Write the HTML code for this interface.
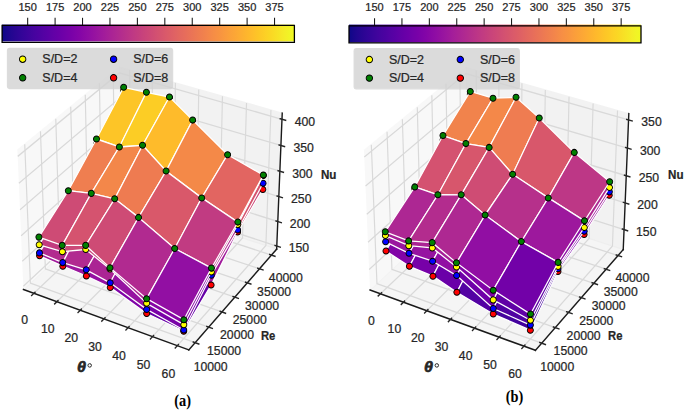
<!DOCTYPE html>
<html><head><meta charset="utf-8"><title>Nu surfaces</title>
<style>
html,body{margin:0;padding:0;background:#fff;}
#wrap{position:relative;width:685px;height:410px;overflow:hidden;background:#fff;}
#wrap svg{position:absolute;left:0;top:0;width:685px;height:410px;}
</style></head><body><div id="wrap">
<svg class="plot" viewBox="0 0 640.519481 342.868991" preserveAspectRatio="none"><defs><linearGradient id="plasmaG" x1="0" y1="0" x2="1" y2="0"><stop offset="0.0000" stop-color="#0d0887"/><stop offset="0.0156" stop-color="#19068c"/><stop offset="0.0312" stop-color="#220690"/><stop offset="0.0469" stop-color="#2a0593"/><stop offset="0.0625" stop-color="#310597"/><stop offset="0.0781" stop-color="#38049a"/><stop offset="0.0938" stop-color="#3f049c"/><stop offset="0.1094" stop-color="#46039f"/><stop offset="0.1250" stop-color="#4c02a1"/><stop offset="0.1406" stop-color="#5302a3"/><stop offset="0.1562" stop-color="#5901a5"/><stop offset="0.1719" stop-color="#6001a6"/><stop offset="0.1875" stop-color="#6600a7"/><stop offset="0.2031" stop-color="#6c00a8"/><stop offset="0.2188" stop-color="#7201a8"/><stop offset="0.2344" stop-color="#7801a8"/><stop offset="0.2500" stop-color="#7e03a8"/><stop offset="0.2656" stop-color="#8405a7"/><stop offset="0.2812" stop-color="#8a09a5"/><stop offset="0.2969" stop-color="#8f0da4"/><stop offset="0.3125" stop-color="#9511a1"/><stop offset="0.3281" stop-color="#9a169f"/><stop offset="0.3438" stop-color="#a01a9c"/><stop offset="0.3594" stop-color="#a51f99"/><stop offset="0.3750" stop-color="#aa2395"/><stop offset="0.3906" stop-color="#ae2892"/><stop offset="0.4062" stop-color="#b32c8e"/><stop offset="0.4219" stop-color="#b7318a"/><stop offset="0.4375" stop-color="#bc3587"/><stop offset="0.4531" stop-color="#c03a83"/><stop offset="0.4688" stop-color="#c43e7f"/><stop offset="0.4844" stop-color="#c8437b"/><stop offset="0.5000" stop-color="#cc4778"/><stop offset="0.5156" stop-color="#cf4c74"/><stop offset="0.5312" stop-color="#d35171"/><stop offset="0.5469" stop-color="#d6556d"/><stop offset="0.5625" stop-color="#da5a6a"/><stop offset="0.5781" stop-color="#dd5e66"/><stop offset="0.5938" stop-color="#e06363"/><stop offset="0.6094" stop-color="#e3685f"/><stop offset="0.6250" stop-color="#e66c5c"/><stop offset="0.6406" stop-color="#e97158"/><stop offset="0.6562" stop-color="#eb7655"/><stop offset="0.6719" stop-color="#ee7b51"/><stop offset="0.6875" stop-color="#f0804e"/><stop offset="0.7031" stop-color="#f3854b"/><stop offset="0.7188" stop-color="#f58b47"/><stop offset="0.7344" stop-color="#f79044"/><stop offset="0.7500" stop-color="#f89540"/><stop offset="0.7656" stop-color="#fa9b3d"/><stop offset="0.7812" stop-color="#fba139"/><stop offset="0.7969" stop-color="#fca636"/><stop offset="0.8125" stop-color="#fdac33"/><stop offset="0.8281" stop-color="#fdb22f"/><stop offset="0.8438" stop-color="#feb82c"/><stop offset="0.8594" stop-color="#febe2a"/><stop offset="0.8750" stop-color="#fdc527"/><stop offset="0.8906" stop-color="#fdcb26"/><stop offset="0.9062" stop-color="#fcd225"/><stop offset="0.9219" stop-color="#fad824"/><stop offset="0.9375" stop-color="#f8df25"/><stop offset="0.9531" stop-color="#f6e626"/><stop offset="0.9688" stop-color="#f4ed27"/><stop offset="0.9844" stop-color="#f1f426"/><stop offset="1.0000" stop-color="#f0f921"/></linearGradient></defs>
<defs>
<style type="text/css">*{stroke-linejoin: round; stroke-linecap: butt}</style>
</defs>
<g id="figure_1">
<g id="patch_1">
<path d="M 0 342.868991 L 640.519481 342.868991 L 640.519481 0 L 0 0 z
" style="fill: #ffffff"/>
</g>
<g id="patch_2">
<path d="M 1.162195 309.966778 L 276.414029 309.966778 L 276.414029 34.714944 L 1.162195 34.714944 z
" style="fill: #ffffff"/>
</g>
<g id="pane3d_1">
<g id="patch_3">
<path d="M 21.945607 242.098497 L 112.842752 165.906708 L 111.579194 56.024527 L 16.332152 125.53148 " style="fill: #f2f2f2; opacity: 0.5; stroke: #f2f2f2; stroke-linejoin: miter"/>
</g>
</g>
<g id="pane3d_2">
<g id="patch_4">
<path d="M 112.842752 165.906708 L 258.700237 208.30172 L 263.905376 94.634774 L 111.579194 56.024527 " style="fill: #e6e6e6; opacity: 0.5; stroke: #e6e6e6; stroke-linejoin: miter"/>
</g>
</g>
<g id="pane3d_3">
<g id="patch_5">
<path d="M 21.945607 242.098497 L 176.561665 292.596101 L 258.700237 208.30172 L 112.842752 165.906708 " style="fill: #ececec; opacity: 0.5; stroke: #ececec; stroke-linejoin: miter"/>
</g>
</g>
<g id="grid3d_1">
<g id="Line3DCollection_1">
<path d="M 31.680569 245.277936 L 122.064322 168.587054 L 121.190708 58.460766 " style="fill: none; stroke: #d9d9d9; stroke-width: 1.1"/>
<path d="M 53.198844 252.305804 L 142.429572 174.506428 L 142.426208 63.843346 " style="fill: none; stroke: #d9d9d9; stroke-width: 1.1"/>
<path d="M 75.042816 259.440046 L 163.077453 180.507952 L 163.969192 69.303865 " style="fill: none; stroke: #d9d9d9; stroke-width: 1.1"/>
<path d="M 97.219937 266.683093 L 184.013888 186.593347 L 185.826387 74.844026 " style="fill: none; stroke: #d9d9d9; stroke-width: 1.1"/>
<path d="M 119.737887 274.037456 L 205.24497 192.764385 L 208.004717 80.465587 " style="fill: none; stroke: #d9d9d9; stroke-width: 1.1"/>
<path d="M 142.604583 281.505718 L 226.776961 199.022884 L 230.511312 86.170352 " style="fill: none; stroke: #d9d9d9; stroke-width: 1.1"/>
<path d="M 165.82819 289.090548 L 248.616305 205.37072 L 253.353515 91.960185 " style="fill: none; stroke: #d9d9d9; stroke-width: 1.1"/>
</g>
</g>
<g id="grid3d_2">
<g id="Line3DCollection_2">
<path d="M 23.131366 120.569724 L 28.41146 236.67869 L 182.428495 286.57529 " style="fill: none; stroke: #d9d9d9; stroke-width: 1.1"/>
<path d="M 37.840563 109.835622 L 42.411458 224.943614 L 195.118833 273.551882 " style="fill: none; stroke: #d9d9d9; stroke-width: 1.1"/>
<path d="M 52.165455 99.381968 L 56.061455 213.501917 L 207.475285 260.871123 " style="fill: none; stroke: #d9d9d9; stroke-width: 1.1"/>
<path d="M 66.12091 89.197913 L 69.374413 202.342731 L 219.510856 248.519666 " style="fill: none; stroke: #d9d9d9; stroke-width: 1.1"/>
<path d="M 79.721036 79.27316 L 82.362663 191.455722 L 231.237886 236.484849 " style="fill: none; stroke: #d9d9d9; stroke-width: 1.1"/>
<path d="M 92.979234 69.597931 L 95.037942 180.831052 L 242.668089 224.754648 " style="fill: none; stroke: #d9d9d9; stroke-width: 1.1"/>
<path d="M 105.908239 60.162932 L 107.411428 170.459351 L 253.812594 213.317645 " style="fill: none; stroke: #d9d9d9; stroke-width: 1.1"/>
</g>
</g>
<g id="grid3d_3">
<g id="Line3DCollection_3">
<path d="M 258.817417 205.742802 L 112.814247 163.427884 L 21.819442 239.478613 " style="fill: none; stroke: #d9d9d9; stroke-width: 1.1"/>
<path d="M 259.756784 185.229437 L 112.585841 143.565111 L 20.80771 218.469335 " style="fill: none; stroke: #d9d9d9; stroke-width: 1.1"/>
<path d="M 260.711447 164.382025 L 112.353894 123.394395 L 19.778872 197.104836 " style="fill: none; stroke: #d9d9d9; stroke-width: 1.1"/>
<path d="M 261.681784 143.19234 L 112.118323 102.908519 L 18.732489 175.376032 " style="fill: none; stroke: #d9d9d9; stroke-width: 1.1"/>
<path d="M 262.668185 121.651881 L 111.879042 82.100039 L 17.668111 153.273523 " style="fill: none; stroke: #d9d9d9; stroke-width: 1.1"/>
<path d="M 263.67105 99.751867 L 111.635963 60.961274 L 16.585268 130.787586 " style="fill: none; stroke: #d9d9d9; stroke-width: 1.1"/>
</g>
</g>
<g id="axis3d_1">
<g id="line2d_1">
<path d="M 21.945607 242.098497 L 176.561665 292.596101 " style="fill: none; stroke: #1a1a1a; stroke-width: 1.3; stroke-linecap: square"/>
</g>
<g id="xtick_1">
<g id="line2d_2">
<path d="M 32.742842 244.376595 L 29.549867 247.085843 " style="fill: none; stroke: #262626; stroke-width: 1.2; stroke-linecap: square"/>
</g>
<g id="text_1">
<text style="font-size: 10.298px; font-family: Liberation Sans; stroke: #262626; stroke-width: 0.2px; text-anchor: middle; fill: #262626" x="23.16693" y="270.646003" transform="rotate(-0 23.16693 270.646003)" dy="0.6" textLength="6.363" lengthAdjust="spacingAndGlyphs">0</text>
</g>
</g>
<g id="xtick_2">
<g id="line2d_3">
<path d="M 54.248203 251.390879 L 51.093998 254.140999 " style="fill: none; stroke: #262626; stroke-width: 1.2; stroke-linecap: square"/>
</g>
<g id="text_2">
<text style="font-size: 10.298px; font-family: Liberation Sans; stroke: #262626; stroke-width: 0.2px; text-anchor: middle; fill: #262626" x="44.709117" y="277.836662" transform="rotate(-0 44.709117 277.836662)" dy="0.6" textLength="12.726" lengthAdjust="spacingAndGlyphs">10</text>
</g>
</g>
<g id="xtick_3">
<g id="line2d_4">
<path d="M 76.078748 258.511226 L 72.964857 261.30315 " style="fill: none; stroke: #262626; stroke-width: 1.2; stroke-linecap: square"/>
</g>
<g id="text_3">
<text style="font-size: 10.298px; font-family: Liberation Sans; stroke: #262626; stroke-width: 0.2px; text-anchor: middle; fill: #262626" x="66.57871" y="285.136607" transform="rotate(-0 66.57871 285.136607)" dy="0.6" textLength="12.726" lengthAdjust="spacingAndGlyphs">20</text>
</g>
</g>
<g id="xtick_4">
<g id="line2d_5">
<path d="M 98.241909 265.740061 L 95.169934 268.574749 " style="fill: none; stroke: #262626; stroke-width: 1.2; stroke-linecap: square"/>
</g>
<g id="text_4">
<text style="font-size: 10.298px; font-family: Liberation Sans; stroke: #262626; stroke-width: 0.2px; text-anchor: middle; fill: #262626" x="88.783228" y="292.548348" transform="rotate(-0 88.783228 292.548348)" dy="0.6" textLength="12.726" lengthAdjust="spacingAndGlyphs">30</text>
</g>
</g>
<g id="xtick_5">
<g id="line2d_6">
<path d="M 120.745346 273.079882 L 117.716949 275.958324 " style="fill: none; stroke: #262626; stroke-width: 1.2; stroke-linecap: square"/>
</g>
<g id="text_5">
<text style="font-size: 10.298px; font-family: Liberation Sans; stroke: #262626; stroke-width: 0.2px; text-anchor: middle; fill: #262626" x="111.330426" y="300.074473" transform="rotate(-0 111.330426 300.074473)" dy="0.6" textLength="12.726" lengthAdjust="spacingAndGlyphs">40</text>
</g>
</g>
<g id="xtick_6">
<g id="line2d_7">
<path d="M 143.596956 280.533265 L 140.613861 283.456481 " style="fill: none; stroke: #262626; stroke-width: 1.2; stroke-linecap: square"/>
</g>
<g id="text_6">
<text style="font-size: 10.298px; font-family: Liberation Sans; stroke: #262626; stroke-width: 0.2px; text-anchor: middle; fill: #262626" x="134.228297" y="307.717652" transform="rotate(-0 134.228297 307.717652)" dy="0.6" textLength="12.726" lengthAdjust="spacingAndGlyphs">50</text>
</g>
</g>
<g id="xtick_7">
<g id="line2d_8">
<path d="M 166.804882 288.102865 L 163.86888 291.071909 " style="fill: none; stroke: #262626; stroke-width: 1.2; stroke-linecap: square"/>
</g>
<g id="text_7">
<text style="font-size: 10.298px; font-family: Liberation Sans; stroke: #262626; stroke-width: 0.2px; text-anchor: middle; fill: #262626" x="157.485088" y="315.480636" transform="rotate(-0 157.485088 315.480636)" dy="0.6" textLength="12.726" lengthAdjust="spacingAndGlyphs">60</text>
</g>
</g>
</g>
<g id="axis3d_2">
<g id="line2d_9">
<path d="M 258.700237 208.30172 L 176.561665 292.596101 " style="fill: none; stroke: #1a1a1a; stroke-width: 1.3; stroke-linecap: square"/>
</g>
<g id="xtick_8">
<g id="line2d_10">
<path d="M 180.676603 286.007733 L 185.938397 287.712386 " style="fill: none; stroke: #262626; stroke-width: 1.2; stroke-linecap: square"/>
</g>
<g id="text_8">
<text style="font-size: 10.298px; font-family: Liberation Sans; stroke: #262626; stroke-width: 0.2px; text-anchor: middle; fill: #262626" x="196.987334" y="309.346439" transform="rotate(-0 196.987334 309.346439)" dy="0.6" textLength="31.815" lengthAdjust="spacingAndGlyphs">10000</text>
</g>
</g>
<g id="xtick_9">
<g id="line2d_11">
<path d="M 193.383007 272.999351 L 198.596466 274.658847 " style="fill: none; stroke: #262626; stroke-width: 1.2; stroke-linecap: square"/>
</g>
<g id="text_9">
<text style="font-size: 10.298px; font-family: Liberation Sans; stroke: #262626; stroke-width: 0.2px; text-anchor: middle; fill: #262626" x="209.491663" y="296.112243" transform="rotate(-0 209.491663 296.112243)" dy="0.6" textLength="31.815" lengthAdjust="spacingAndGlyphs">15000</text>
</g>
</g>
<g id="xtick_10">
<g id="line2d_12">
<path d="M 205.755291 260.33303 L 210.92112 261.949138 " style="fill: none; stroke: #262626; stroke-width: 1.2; stroke-linecap: square"/>
</g>
<g id="text_10">
<text style="font-size: 10.298px; font-family: Liberation Sans; stroke: #262626; stroke-width: 0.2px; text-anchor: middle; fill: #262626" x="221.666789" y="283.226464" transform="rotate(-0 221.666789 283.226464)" dy="0.6" textLength="31.815" lengthAdjust="spacingAndGlyphs">20000</text>
</g>
</g>
<g id="xtick_11">
<g id="line2d_13">
<path d="M 217.806463 247.995452 L 222.925361 249.569853 " style="fill: none; stroke: #262626; stroke-width: 1.2; stroke-linecap: square"/>
</g>
<g id="text_11">
<text style="font-size: 10.298px; font-family: Liberation Sans; stroke: #262626; stroke-width: 0.2px; text-anchor: middle; fill: #262626" x="233.525546" y="270.675521" transform="rotate(-0 233.525546 270.675521)" dy="0.6" textLength="31.815" lengthAdjust="spacingAndGlyphs">25000</text>
</g>
</g>
<g id="xtick_12">
<g id="line2d_14">
<path d="M 229.548864 235.973983 L 234.621524 237.508271 " style="fill: none; stroke: #262626; stroke-width: 1.2; stroke-linecap: square"/>
</g>
<g id="text_12">
<text style="font-size: 10.298px; font-family: Liberation Sans; stroke: #262626; stroke-width: 0.2px; text-anchor: middle; fill: #262626" x="245.080105" y="258.446532" transform="rotate(-0 245.080105 258.446532)" dy="0.6" textLength="31.815" lengthAdjust="spacingAndGlyphs">30000</text>
</g>
</g>
<g id="xtick_13">
<g id="line2d_15">
<path d="M 240.994211 224.256629 L 246.021319 225.752317 " style="fill: none; stroke: #262626; stroke-width: 1.2; stroke-linecap: square"/>
</g>
<g id="text_13">
<text style="font-size: 10.298px; font-family: Liberation Sans; stroke: #262626; stroke-width: 0.2px; text-anchor: middle; fill: #262626" x="256.342023" y="246.527264" transform="rotate(-0 256.342023 246.527264)" dy="0.6" textLength="31.815" lengthAdjust="spacingAndGlyphs">35000</text>
</g>
</g>
<g id="xtick_14">
<g id="line2d_16">
<path d="M 252.153634 212.831992 L 257.13587 214.290519 " style="fill: none; stroke: #262626; stroke-width: 1.2; stroke-linecap: square"/>
</g>
<g id="text_14">
<text style="font-size: 10.298px; font-family: Liberation Sans; stroke: #262626; stroke-width: 0.2px; text-anchor: middle; fill: #262626" x="267.322279" y="234.906099" transform="rotate(-0 267.322279 234.906099)" dy="0.6" textLength="31.815" lengthAdjust="spacingAndGlyphs">40000</text>
</g>
</g>
</g>
<g id="axis3d_3">
<g id="line2d_17">
<path d="M 258.700237 208.30172 L 263.905376 94.634774 " style="fill: none; stroke: #1a1a1a; stroke-width: 1.3; stroke-linecap: square"/>
</g>
<g id="xtick_15">
<g id="line2d_18">
<path d="M 257.163321 205.263409 L 262.130928 206.70313 " style="fill: none; stroke: #262626; stroke-width: 1.2; stroke-linecap: square"/>
</g>
<g id="text_15">
<text style="font-size: 10.298px; font-family: Liberation Sans; stroke: #262626; stroke-width: 0.2px; text-anchor: middle; fill: #262626" x="279.460916" y="210.403471" transform="rotate(-0 279.460916 210.403471)" dy="0.6" textLength="19.089" lengthAdjust="spacingAndGlyphs">150</text>
</g>
</g>
<g id="xtick_16">
<g id="line2d_19">
<path d="M 258.088829 184.757237 L 263.098099 186.175369 " style="fill: none; stroke: #262626; stroke-width: 1.2; stroke-linecap: square"/>
</g>
<g id="text_16">
<text style="font-size: 10.298px; font-family: Liberation Sans; stroke: #262626; stroke-width: 0.2px; text-anchor: middle; fill: #262626" x="280.563352" y="189.93426" transform="rotate(-0 280.563352 189.93426)" dy="0.6" textLength="19.089" lengthAdjust="spacingAndGlyphs">200</text>
</g>
</g>
<g id="xtick_17">
<g id="line2d_20">
<path d="M 259.0294 163.917316 L 264.081038 165.312962 " style="fill: none; stroke: #262626; stroke-width: 1.2; stroke-linecap: square"/>
</g>
<g id="text_17">
<text style="font-size: 10.298px; font-family: Liberation Sans; stroke: #262626; stroke-width: 0.2px; text-anchor: middle; fill: #262626" x="281.68368" y="169.132831" transform="rotate(-0 281.68368 169.132831)" dy="0.6" textLength="19.089" lengthAdjust="spacingAndGlyphs">250</text>
</g>
</g>
<g id="xtick_18">
<g id="line2d_21">
<path d="M 259.985405 142.735432 L 265.080132 144.10766 " style="fill: none; stroke: #262626; stroke-width: 1.2; stroke-linecap: square"/>
</g>
<g id="text_18">
<text style="font-size: 10.298px; font-family: Liberation Sans; stroke: #262626; stroke-width: 0.2px; text-anchor: middle; fill: #262626" x="282.822341" y="147.99103" transform="rotate(-0 282.822341 147.99103)" dy="0.6" textLength="19.089" lengthAdjust="spacingAndGlyphs">300</text>
</g>
</g>
<g id="xtick_19">
<g id="line2d_22">
<path d="M 260.957227 121.203099 L 266.095783 122.550937 " style="fill: none; stroke: #262626; stroke-width: 1.2; stroke-linecap: square"/>
</g>
<g id="text_19">
<text style="font-size: 10.298px; font-family: Liberation Sans; stroke: #262626; stroke-width: 0.2px; text-anchor: middle; fill: #262626" x="283.979787" y="126.500435" transform="rotate(-0 283.979787 126.500435)" dy="0.6" textLength="19.089" lengthAdjust="spacingAndGlyphs">350</text>
</g>
</g>
<g id="xtick_20">
<g id="line2d_23">
<path d="M 261.945261 99.311545 L 267.128407 100.633986 " style="fill: none; stroke: #262626; stroke-width: 1.2; stroke-linecap: square"/>
</g>
<g id="text_20">
<text style="font-size: 10.298px; font-family: Liberation Sans; stroke: #262626; stroke-width: 0.2px; text-anchor: middle; fill: #262626" x="285.156487" y="104.652342" transform="rotate(-0 285.156487 104.652342)" dy="0.6" textLength="19.089" lengthAdjust="spacingAndGlyphs">400</text>
</g>
</g>
</g>
<g id="axes_1">
<g id="Poly3DCollection_1">
<path d="M 90.493249 130.509572 L 111.799969 138.943593 L 136.929158 96.942918 L 115.838959 90.93204 z
" clip-path="url(#pda43976c72)" style="fill: #f58c46; stroke: #ffffff; stroke-width: 1.1"/>
<path d="M 111.799969 138.943593 L 133.371943 145.74138 L 158.280741 108.980256 L 136.929158 96.942918 z
" clip-path="url(#pda43976c72)" style="fill: #f3854b; stroke: #ffffff; stroke-width: 1.1"/>
<path d="M 133.371943 145.74138 L 155.22335 158.052882 L 179.866157 119.098572 L 158.280741 108.980256 z
" clip-path="url(#pda43976c72)" style="fill: #ed7953; stroke: #ffffff; stroke-width: 1.1"/>
<path d="M 64.485519 179.517208 L 85.834771 183.615382 L 111.799969 138.943593 L 90.493249 130.509572 z
" clip-path="url(#pda43976c72)" style="fill: #d04d73; stroke: #ffffff; stroke-width: 1.1"/>
<path d="M 155.22335 158.052882 L 188.416225 176.539335 L 212.44325 144.0229 L 179.866157 119.098572 z
" clip-path="url(#pda43976c72)" style="fill: #de6164; stroke: #ffffff; stroke-width: 1.1"/>
<path d="M 85.834771 183.615382 L 107.657581 196.278517 L 133.371943 145.74138 L 111.799969 138.943593 z
" clip-path="url(#pda43976c72)" style="fill: #cc4977; stroke: #ffffff; stroke-width: 1.1"/>
<path d="M 188.416225 176.539335 L 222.159068 194.031267 L 245.762562 158.38633 L 212.44325 144.0229 z
" clip-path="url(#pda43976c72)" style="fill: #cc4778; stroke: #ffffff; stroke-width: 1.1"/>
<path d="M 107.657581 196.278517 L 129.668499 202.702395 L 155.22335 158.052882 L 133.371943 145.74138 z
" clip-path="url(#pda43976c72)" style="fill: #c6417d; stroke: #ffffff; stroke-width: 1.1"/>
<path d="M 37.031655 213.900009 L 58.748986 222.595077 L 85.834771 183.615382 L 64.485519 179.517208 z
" clip-path="url(#pda43976c72)" style="fill: #a11b9b; stroke: #ffffff; stroke-width: 1.1"/>
<path d="M 129.668499 202.702395 L 163.216746 224.704909 L 188.416225 176.539335 L 155.22335 158.052882 z
" clip-path="url(#pda43976c72)" style="fill: #b6308b; stroke: #ffffff; stroke-width: 1.1"/>
<path d="M 58.748986 222.595077 L 80.748919 230.811717 L 107.657581 196.278517 L 85.834771 183.615382 z
" clip-path="url(#pda43976c72)" style="fill: #9c179e; stroke: #ffffff; stroke-width: 1.1"/>
<path d="M 163.216746 224.704909 L 197.400143 238.412587 L 222.159068 194.031267 L 188.416225 176.539335 z
" clip-path="url(#pda43976c72)" style="fill: #a11b9b; stroke: #ffffff; stroke-width: 1.1"/>
<path d="M 80.748919 230.811717 L 103.081614 240.344735 L 129.668499 202.702395 L 107.657581 196.278517 z
" clip-path="url(#pda43976c72)" style="fill: #9410a2; stroke: #ffffff; stroke-width: 1.1"/>
<path d="M 103.081614 240.344735 L 137.159061 262.170809 L 163.216746 224.704909 L 129.668499 202.702395 z
" clip-path="url(#pda43976c72)" style="fill: #8004a8; stroke: #ffffff; stroke-width: 1.1"/>
<path d="M 137.159061 262.170809 L 171.812368 276.993818 L 197.400143 238.412587 L 163.216746 224.704909 z
" clip-path="url(#pda43976c72)" style="fill: #6600a7; stroke: #ffffff; stroke-width: 1.1"/>
</g>
<g id="Path3DCollection_1">
<defs>
<path id="m2ebb7b896f" d="M 0.0000 2.5296 C 0.7501 2.5296 1.4696 2.2630 2.0000 1.7887 C 2.5304 1.3143 2.8284 0.6709 2.8284 0.0000 C 2.8284 -0.6709 2.5304 -1.3143 2.0000 -1.7887 C 1.4696 -2.2630 0.7501 -2.5296 0.0000 -2.5296 C -0.7501 -2.5296 -1.4696 -2.2630 -2.0000 -1.7887 C -2.5304 -1.3143 -2.8284 -0.6709 -2.8284 0.0000 C -2.8284 0.6709 -2.5304 1.3143 -2.0000 1.7887 C -1.4696 2.2630 -0.7501 2.5296 0.0000 2.5296 z" style="stroke: #000000; stroke-width: 0.85"/>
</defs>
<g clip-path="url(#pda43976c72)">
<use href="#m2ebb7b896f" x="115.838959" y="90.93204" style="fill: #ff0000; stroke: #000000; stroke-width: 0.85"/>
<use href="#m2ebb7b896f" x="136.929158" y="96.942918" style="fill: #ff0000; stroke: #000000; stroke-width: 0.85"/>
<use href="#m2ebb7b896f" x="158.280741" y="108.980256" style="fill: #ff0000; stroke: #000000; stroke-width: 0.85"/>
<use href="#m2ebb7b896f" x="179.866157" y="119.098572" style="fill: #ff0000; stroke: #000000; stroke-width: 0.85"/>
<use href="#m2ebb7b896f" x="90.493249" y="130.509572" style="fill: #ff0000; stroke: #000000; stroke-width: 0.85"/>
<use href="#m2ebb7b896f" x="212.44325" y="144.0229" style="fill: #ff0000; stroke: #000000; stroke-width: 0.85"/>
<use href="#m2ebb7b896f" x="111.799969" y="138.943593" style="fill: #ff0000; stroke: #000000; stroke-width: 0.85"/>
<use href="#m2ebb7b896f" x="133.371943" y="145.74138" style="fill: #ff0000; stroke: #000000; stroke-width: 0.85"/>
<use href="#m2ebb7b896f" x="245.762562" y="158.38633" style="fill: #ff0000; stroke: #000000; stroke-width: 0.85"/>
<use href="#m2ebb7b896f" x="64.485519" y="179.517208" style="fill: #ff0000; stroke: #000000; stroke-width: 0.85"/>
<use href="#m2ebb7b896f" x="155.22335" y="158.052882" style="fill: #ff0000; stroke: #000000; stroke-width: 0.85"/>
<use href="#m2ebb7b896f" x="85.834771" y="183.615382" style="fill: #ff0000; stroke: #000000; stroke-width: 0.85"/>
<use href="#m2ebb7b896f" x="188.416225" y="176.539335" style="fill: #ff0000; stroke: #000000; stroke-width: 0.85"/>
<use href="#m2ebb7b896f" x="107.657581" y="196.278517" style="fill: #ff0000; stroke: #000000; stroke-width: 0.85"/>
<use href="#m2ebb7b896f" x="222.159068" y="194.031267" style="fill: #ff0000; stroke: #000000; stroke-width: 0.85"/>
<use href="#m2ebb7b896f" x="129.668499" y="202.702395" style="fill: #ff0000; stroke: #000000; stroke-width: 0.85"/>
<use href="#m2ebb7b896f" x="37.031655" y="213.900009" style="fill: #ff0000; stroke: #000000; stroke-width: 0.85"/>
<use href="#m2ebb7b896f" x="163.216746" y="224.704909" style="fill: #ff0000; stroke: #000000; stroke-width: 0.85"/>
<use href="#m2ebb7b896f" x="58.748986" y="222.595077" style="fill: #ff0000; stroke: #000000; stroke-width: 0.85"/>
<use href="#m2ebb7b896f" x="80.748919" y="230.811717" style="fill: #ff0000; stroke: #000000; stroke-width: 0.85"/>
<use href="#m2ebb7b896f" x="197.400143" y="238.412587" style="fill: #ff0000; stroke: #000000; stroke-width: 0.85"/>
<use href="#m2ebb7b896f" x="103.081614" y="240.344735" style="fill: #ff0000; stroke: #000000; stroke-width: 0.85"/>
<use href="#m2ebb7b896f" x="137.159061" y="262.170809" style="fill: #ff0000; stroke: #000000; stroke-width: 0.85"/>
<use href="#m2ebb7b896f" x="171.812368" y="276.993818" style="fill: #ff0000; stroke: #000000; stroke-width: 0.85"/>
</g>
</g>
<g id="Poly3DCollection_2">
<path d="M 90.431847 127.422459 L 111.756984 135.294709 L 136.914317 89.896215 L 115.774033 84.469092 z
" clip-path="url(#pda43976c72)" style="fill: #fa9c3c; stroke: #ffffff; stroke-width: 1.1"/>
<path d="M 111.756984 135.294709 L 133.35141 139.898003 L 158.335904 99.758987 L 136.914317 89.896215 z
" clip-path="url(#pda43976c72)" style="fill: #f9983e; stroke: #ffffff; stroke-width: 1.1"/>
<path d="M 133.35141 139.898003 L 155.245562 153.532945 L 179.978716 111.184869 L 158.335904 99.758987 z
" clip-path="url(#pda43976c72)" style="fill: #f58c46; stroke: #ffffff; stroke-width: 1.1"/>
<path d="M 64.195452 169.976991 L 85.610051 173.456383 L 111.756984 135.294709 L 90.431847 127.422459 z
" clip-path="url(#pda43976c72)" style="fill: #dd5e66; stroke: #ffffff; stroke-width: 1.1"/>
<path d="M 155.245562 153.532945 L 188.489394 172.444689 L 212.643553 136.571566 L 179.978716 111.184869 z
" clip-path="url(#pda43976c72)" style="fill: #e87059; stroke: #ffffff; stroke-width: 1.1"/>
<path d="M 85.610051 173.456383 L 107.488916 183.940299 L 133.35141 139.898003 L 111.756984 135.294709 z
" clip-path="url(#pda43976c72)" style="fill: #dc5d67; stroke: #ffffff; stroke-width: 1.1"/>
<path d="M 188.489394 172.444689 L 222.212347 192.324483 L 245.965829 153.293063 L 212.643553 136.571566 z
" clip-path="url(#pda43976c72)" style="fill: #d5546e; stroke: #ffffff; stroke-width: 1.1"/>
<path d="M 107.488916 183.940299 L 129.61261 191.633024 L 155.245562 153.532945 L 133.35141 139.898003 z
" clip-path="url(#pda43976c72)" style="fill: #d7566c; stroke: #ffffff; stroke-width: 1.1"/>
<path d="M 36.930915 211.481942 L 58.650053 219.61493 L 85.610051 173.456383 L 64.195452 169.976991 z
" clip-path="url(#pda43976c72)" style="fill: #b22b8f; stroke: #ffffff; stroke-width: 1.1"/>
<path d="M 129.61261 191.633024 L 163.303973 214.086657 L 188.489394 172.444689 L 155.245562 153.532945 z
" clip-path="url(#pda43976c72)" style="fill: #c8437b; stroke: #ffffff; stroke-width: 1.1"/>
<path d="M 58.650053 219.61493 L 80.62182 225.636197 L 107.488916 183.940299 L 85.610051 173.456383 z
" clip-path="url(#pda43976c72)" style="fill: #b12a90; stroke: #ffffff; stroke-width: 1.1"/>
<path d="M 163.303973 214.086657 L 197.581001 230.151811 L 222.212347 192.324483 L 188.489394 172.444689 z
" clip-path="url(#pda43976c72)" style="fill: #b22b8f; stroke: #ffffff; stroke-width: 1.1"/>
<path d="M 80.62182 225.636197 L 103.020893 236.486251 L 129.61261 191.633024 L 107.488916 183.940299 z
" clip-path="url(#pda43976c72)" style="fill: #ab2494; stroke: #ffffff; stroke-width: 1.1"/>
<path d="M 103.020893 236.486251 L 137.151688 258.747258 L 163.303973 214.086657 L 129.61261 191.633024 z
" clip-path="url(#pda43976c72)" style="fill: #9613a1; stroke: #ffffff; stroke-width: 1.1"/>
<path d="M 137.151688 258.747258 L 171.824599 275.963492 L 197.581001 230.151811 L 163.303973 214.086657 z
" clip-path="url(#pda43976c72)" style="fill: #7a02a8; stroke: #ffffff; stroke-width: 1.1"/>
</g>
<g id="Path3DCollection_2">
<defs>
<path id="m692a02ad62" d="M 0.0000 2.5296 C 0.7501 2.5296 1.4696 2.2630 2.0000 1.7887 C 2.5304 1.3143 2.8284 0.6709 2.8284 0.0000 C 2.8284 -0.6709 2.5304 -1.3143 2.0000 -1.7887 C 1.4696 -2.2630 0.7501 -2.5296 0.0000 -2.5296 C -0.7501 -2.5296 -1.4696 -2.2630 -2.0000 -1.7887 C -2.5304 -1.3143 -2.8284 -0.6709 -2.8284 0.0000 C -2.8284 0.6709 -2.5304 1.3143 -2.0000 1.7887 C -1.4696 2.2630 -0.7501 2.5296 0.0000 2.5296 z" style="stroke: #000000; stroke-width: 0.85"/>
</defs>
<g clip-path="url(#pda43976c72)">
<use href="#m692a02ad62" x="115.774033" y="84.469092" style="fill: #0000ff; stroke: #000000; stroke-width: 0.85"/>
<use href="#m692a02ad62" x="136.914317" y="89.896215" style="fill: #0000ff; stroke: #000000; stroke-width: 0.85"/>
<use href="#m692a02ad62" x="158.335904" y="99.758987" style="fill: #0000ff; stroke: #000000; stroke-width: 0.85"/>
<use href="#m692a02ad62" x="90.431847" y="127.422459" style="fill: #0000ff; stroke: #000000; stroke-width: 0.85"/>
<use href="#m692a02ad62" x="179.978716" y="111.184869" style="fill: #0000ff; stroke: #000000; stroke-width: 0.85"/>
<use href="#m692a02ad62" x="212.643553" y="136.571566" style="fill: #0000ff; stroke: #000000; stroke-width: 0.85"/>
<use href="#m692a02ad62" x="111.756984" y="135.294709" style="fill: #0000ff; stroke: #000000; stroke-width: 0.85"/>
<use href="#m692a02ad62" x="245.965829" y="153.293063" style="fill: #0000ff; stroke: #000000; stroke-width: 0.85"/>
<use href="#m692a02ad62" x="133.35141" y="139.898003" style="fill: #0000ff; stroke: #000000; stroke-width: 0.85"/>
<use href="#m692a02ad62" x="64.195452" y="169.976991" style="fill: #0000ff; stroke: #000000; stroke-width: 0.85"/>
<use href="#m692a02ad62" x="155.245562" y="153.532945" style="fill: #0000ff; stroke: #000000; stroke-width: 0.85"/>
<use href="#m692a02ad62" x="85.610051" y="173.456383" style="fill: #0000ff; stroke: #000000; stroke-width: 0.85"/>
<use href="#m692a02ad62" x="188.489394" y="172.444689" style="fill: #0000ff; stroke: #000000; stroke-width: 0.85"/>
<use href="#m692a02ad62" x="107.488916" y="183.940299" style="fill: #0000ff; stroke: #000000; stroke-width: 0.85"/>
<use href="#m692a02ad62" x="222.212347" y="192.324483" style="fill: #0000ff; stroke: #000000; stroke-width: 0.85"/>
<use href="#m692a02ad62" x="36.930915" y="211.481942" style="fill: #0000ff; stroke: #000000; stroke-width: 0.85"/>
<use href="#m692a02ad62" x="129.61261" y="191.633024" style="fill: #0000ff; stroke: #000000; stroke-width: 0.85"/>
<use href="#m692a02ad62" x="58.650053" y="219.61493" style="fill: #0000ff; stroke: #000000; stroke-width: 0.85"/>
<use href="#m692a02ad62" x="163.303973" y="214.086657" style="fill: #0000ff; stroke: #000000; stroke-width: 0.85"/>
<use href="#m692a02ad62" x="80.62182" y="225.636197" style="fill: #0000ff; stroke: #000000; stroke-width: 0.85"/>
<use href="#m692a02ad62" x="197.581001" y="230.151811" style="fill: #0000ff; stroke: #000000; stroke-width: 0.85"/>
<use href="#m692a02ad62" x="103.020893" y="236.486251" style="fill: #0000ff; stroke: #000000; stroke-width: 0.85"/>
<use href="#m692a02ad62" x="137.151688" y="258.747258" style="fill: #0000ff; stroke: #000000; stroke-width: 0.85"/>
<use href="#m692a02ad62" x="171.824599" y="275.963492" style="fill: #0000ff; stroke: #000000; stroke-width: 0.85"/>
</g>
</g>
<g id="legend_1">
<g id="patch_6">
<path d="M 8.959481 74.049841 L 159.428606 74.049841 Q 161.468606 74.049841 161.468606 72.009841 L 161.468606 42.515266 Q 161.468606 40.475266 159.428606 40.475266 L 8.959481 40.475266 Q 6.919481 40.475266 6.919481 42.515266 L 6.919481 72.009841 Q 6.919481 74.049841 8.959481 74.049841 z
" style="fill: #d3d3d3; opacity: 0.8; stroke: #d3d3d3; stroke-linejoin: miter"/>
</g><g transform="translate(0 0.8)">
<g id="line2d_24">
<defs>
<path id="m4e5742e4b6" d="M 0.0000 2.6830 C 0.7956 2.6830 1.5587 2.4003 2.1213 1.8972 C 2.6839 1.3940 3.0000 0.7115 3.0000 0.0000 C 3.0000 -0.7115 2.6839 -1.3940 2.1213 -1.8972 C 1.5587 -2.4003 0.7956 -2.6830 0.0000 -2.6830 C -0.7956 -2.6830 -1.5587 -2.4003 -2.1213 -1.8972 C -2.6839 -1.3940 -3.0000 -0.7115 -3.0000 0.0000 C -3.0000 0.7115 -2.6839 1.3940 -2.1213 1.8972 C -1.5587 2.4003 -0.7956 2.6830 0.0000 2.6830 z" style="stroke: #000000; stroke-width: 0.85"/>
</defs>
<g>
<use href="#m4e5742e4b6" x="21.199481" y="48.735672" style="fill: #ffff00; stroke: #000000; stroke-width: 0.85"/>
</g>
</g>
<g id="text_21">
<text style="font-size: 10.503px; font-family: Liberation Sans; stroke: #262626; stroke-width: 0.2px; text-anchor: start; fill: #262626" x="39.559481" y="52.305672" transform="rotate(-0 39.559481 52.305672)" textLength="32.801" lengthAdjust="spacingAndGlyphs">S/D=2</text>
</g>
<g id="line2d_25">
<defs>
<path id="m6e47d3a416" d="M 0.0000 2.6830 C 0.7956 2.6830 1.5587 2.4003 2.1213 1.8972 C 2.6839 1.3940 3.0000 0.7115 3.0000 0.0000 C 3.0000 -0.7115 2.6839 -1.3940 2.1213 -1.8972 C 1.5587 -2.4003 0.7956 -2.6830 0.0000 -2.6830 C -0.7956 -2.6830 -1.5587 -2.4003 -2.1213 -1.8972 C -2.6839 -1.3940 -3.0000 -0.7115 -3.0000 0.0000 C -3.0000 0.7115 -2.6839 1.3940 -2.1213 1.8972 C -1.5587 2.4003 -0.7956 2.6830 0.0000 2.6830 z" style="stroke: #000000; stroke-width: 0.85"/>
</defs>
<g>
<use href="#m6e47d3a416" x="21.199481" y="64.27856" style="fill: #008000; stroke: #000000; stroke-width: 0.85"/>
</g>
</g>
<g id="text_22">
<text style="font-size: 10.503px; font-family: Liberation Sans; stroke: #262626; stroke-width: 0.2px; text-anchor: start; fill: #262626" x="39.559481" y="67.84856" transform="rotate(-0 39.559481 67.84856)" textLength="32.801" lengthAdjust="spacingAndGlyphs">S/D=4</text>
</g>
<g id="line2d_26">
<defs>
<path id="m7faa348550" d="M 0.0000 2.6830 C 0.7956 2.6830 1.5587 2.4003 2.1213 1.8972 C 2.6839 1.3940 3.0000 0.7115 3.0000 0.0000 C 3.0000 -0.7115 2.6839 -1.3940 2.1213 -1.8972 C 1.5587 -2.4003 0.7956 -2.6830 0.0000 -2.6830 C -0.7956 -2.6830 -1.5587 -2.4003 -2.1213 -1.8972 C -2.6839 -1.3940 -3.0000 -0.7115 -3.0000 0.0000 C -3.0000 0.7115 -2.6839 1.3940 -2.1213 1.8972 C -1.5587 2.4003 -0.7956 2.6830 0.0000 2.6830 z" style="stroke: #000000; stroke-width: 0.85"/>
</defs>
<g>
<use href="#m7faa348550" x="106.226043" y="48.735672" style="fill: #0000ff; stroke: #000000; stroke-width: 0.85"/>
</g>
</g>
<g id="text_23">
<text style="font-size: 10.503px; font-family: Liberation Sans; stroke: #262626; stroke-width: 0.2px; text-anchor: start; fill: #262626" x="124.586043" y="52.305672" transform="rotate(-0 124.586043 52.305672)" textLength="32.801" lengthAdjust="spacingAndGlyphs">S/D=6</text>
</g>
<g id="line2d_27">
<defs>
<path id="m8d33e13963" d="M 0.0000 2.6830 C 0.7956 2.6830 1.5587 2.4003 2.1213 1.8972 C 2.6839 1.3940 3.0000 0.7115 3.0000 0.0000 C 3.0000 -0.7115 2.6839 -1.3940 2.1213 -1.8972 C 1.5587 -2.4003 0.7956 -2.6830 0.0000 -2.6830 C -0.7956 -2.6830 -1.5587 -2.4003 -2.1213 -1.8972 C -2.6839 -1.3940 -3.0000 -0.7115 -3.0000 0.0000 C -3.0000 0.7115 -2.6839 1.3940 -2.1213 1.8972 C -1.5587 2.4003 -0.7956 2.6830 0.0000 2.6830 z" style="stroke: #000000; stroke-width: 0.85"/>
</defs>
<g>
<use href="#m8d33e13963" x="106.226043" y="64.27856" style="fill: #ff0000; stroke: #000000; stroke-width: 0.85"/>
</g>
</g>
<g id="text_24">
<text style="font-size: 10.503px; font-family: Liberation Sans; stroke: #262626; stroke-width: 0.2px; text-anchor: start; fill: #262626" x="124.586043" y="67.84856" transform="rotate(-0 124.586043 67.84856)" textLength="32.801" lengthAdjust="spacingAndGlyphs">S/D=8</text>
</g>
</g></g>
<g id="Poly3DCollection_3">
<path d="M 90.295912 120.588064 L 111.648994 126.127652 L 136.89055 78.611849 L 115.684403 75.546971 z
" clip-path="url(#pda43976c72)" style="fill: #feba2c; stroke: #ffffff; stroke-width: 1.1"/>
<path d="M 111.648994 126.127652 L 133.291537 122.859002 L 158.442224 81.986223 L 136.89055 78.611849 z
" clip-path="url(#pda43976c72)" style="fill: #fdc627; stroke: #ffffff; stroke-width: 1.1"/>
<path d="M 133.291537 122.859002 L 155.292755 143.929245 L 180.119456 101.289922 L 158.442224 81.986223 z
" clip-path="url(#pda43976c72)" style="fill: #feb82c; stroke: #ffffff; stroke-width: 1.1"/>
<path d="M 64.04185 164.925037 L 85.446273 166.052389 L 111.648994 126.127652 L 90.295912 120.588064 z
" clip-path="url(#pda43976c72)" style="fill: #e97158; stroke: #ffffff; stroke-width: 1.1"/>
<path d="M 155.292755 143.929245 L 188.581951 167.265098 L 212.814026 130.22989 L 180.119456 101.289922 z
" clip-path="url(#pda43976c72)" style="fill: #f3874a; stroke: #ffffff; stroke-width: 1.1"/>
<path d="M 188.581951 167.265098 L 222.352544 187.833292 L 246.227863 146.727248 L 212.814026 130.22989 z
" clip-path="url(#pda43976c72)" style="fill: #df6263; stroke: #ffffff; stroke-width: 1.1"/>
<path d="M 85.446273 166.052389 L 107.280803 168.716333 L 133.291537 122.859002 L 111.648994 126.127652 z
" clip-path="url(#pda43976c72)" style="fill: #ef7e50; stroke: #ffffff; stroke-width: 1.1"/>
<path d="M 107.280803 168.716333 L 129.567373 182.673318 L 155.292755 143.929245 L 133.291537 122.859002 z
" clip-path="url(#pda43976c72)" style="fill: #ec7754; stroke: #ffffff; stroke-width: 1.1"/>
<path d="M 36.648884 204.712329 L 58.347572 210.503309 L 85.446273 166.052389 L 64.04185 164.925037 z
" clip-path="url(#pda43976c72)" style="fill: #c33d80; stroke: #ffffff; stroke-width: 1.1"/>
<path d="M 129.567373 182.673318 L 163.331801 210.699098 L 188.581951 167.265098 L 155.292755 143.929245 z
" clip-path="url(#pda43976c72)" style="fill: #d5546e; stroke: #ffffff; stroke-width: 1.1"/>
<path d="M 163.331801 210.699098 L 197.640296 227.443491 L 222.352544 187.833292 L 188.581951 167.265098 z
" clip-path="url(#pda43976c72)" style="fill: #bc3587; stroke: #ffffff; stroke-width: 1.1"/>
<path d="M 58.347572 210.503309 L 80.20431 208.635065 L 107.280803 168.716333 L 85.446273 166.052389 z
" clip-path="url(#pda43976c72)" style="fill: #cc4977; stroke: #ffffff; stroke-width: 1.1"/>
<path d="M 80.20431 208.635065 L 102.839648 224.969166 L 129.567373 182.673318 L 107.280803 168.716333 z
" clip-path="url(#pda43976c72)" style="fill: #cb4679; stroke: #ffffff; stroke-width: 1.1"/>
<path d="M 102.839648 224.969166 L 137.140682 253.637227 L 163.331801 210.699098 L 129.567373 182.673318 z
" clip-path="url(#pda43976c72)" style="fill: #ac2694; stroke: #ffffff; stroke-width: 1.1"/>
<path d="M 137.140682 253.637227 L 171.877205 271.531889 L 197.640296 227.443491 L 163.331801 210.699098 z
" clip-path="url(#pda43976c72)" style="fill: #8707a6; stroke: #ffffff; stroke-width: 1.1"/>
</g>
<g id="Path3DCollection_3">
<defs>
<path id="m139da3f64d" d="M 0.0000 2.5296 C 0.7501 2.5296 1.4696 2.2630 2.0000 1.7887 C 2.5304 1.3143 2.8284 0.6709 2.8284 0.0000 C 2.8284 -0.6709 2.5304 -1.3143 2.0000 -1.7887 C 1.4696 -2.2630 0.7501 -2.5296 0.0000 -2.5296 C -0.7501 -2.5296 -1.4696 -2.2630 -2.0000 -1.7887 C -2.5304 -1.3143 -2.8284 -0.6709 -2.8284 0.0000 C -2.8284 0.6709 -2.5304 1.3143 -2.0000 1.7887 C -1.4696 2.2630 -0.7501 2.5296 0.0000 2.5296 z" style="stroke: #000000; stroke-width: 0.85"/>
</defs>
<g clip-path="url(#pda43976c72)">
<use href="#m139da3f64d" x="115.684403" y="75.546971" style="fill: #ffff00; stroke: #000000; stroke-width: 0.85"/>
<use href="#m139da3f64d" x="136.89055" y="78.611849" style="fill: #ffff00; stroke: #000000; stroke-width: 0.85"/>
<use href="#m139da3f64d" x="90.295912" y="120.588064" style="fill: #ffff00; stroke: #000000; stroke-width: 0.85"/>
<use href="#m139da3f64d" x="158.442224" y="81.986223" style="fill: #ffff00; stroke: #000000; stroke-width: 0.85"/>
<use href="#m139da3f64d" x="180.119456" y="101.289922" style="fill: #ffff00; stroke: #000000; stroke-width: 0.85"/>
<use href="#m139da3f64d" x="212.814026" y="130.22989" style="fill: #ffff00; stroke: #000000; stroke-width: 0.85"/>
<use href="#m139da3f64d" x="111.648994" y="126.127652" style="fill: #ffff00; stroke: #000000; stroke-width: 0.85"/>
<use href="#m139da3f64d" x="246.227863" y="146.727248" style="fill: #ffff00; stroke: #000000; stroke-width: 0.85"/>
<use href="#m139da3f64d" x="64.04185" y="164.925037" style="fill: #ffff00; stroke: #000000; stroke-width: 0.85"/>
<use href="#m139da3f64d" x="133.291537" y="122.859002" style="fill: #ffff00; stroke: #000000; stroke-width: 0.85"/>
<use href="#m139da3f64d" x="155.292755" y="143.929245" style="fill: #ffff00; stroke: #000000; stroke-width: 0.85"/>
<use href="#m139da3f64d" x="188.581951" y="167.265098" style="fill: #ffff00; stroke: #000000; stroke-width: 0.85"/>
<use href="#m139da3f64d" x="85.446273" y="166.052389" style="fill: #ffff00; stroke: #000000; stroke-width: 0.85"/>
<use href="#m139da3f64d" x="222.352544" y="187.833292" style="fill: #ffff00; stroke: #000000; stroke-width: 0.85"/>
<use href="#m139da3f64d" x="107.280803" y="168.716333" style="fill: #ffff00; stroke: #000000; stroke-width: 0.85"/>
<use href="#m139da3f64d" x="36.648884" y="204.712329" style="fill: #ffff00; stroke: #000000; stroke-width: 0.85"/>
<use href="#m139da3f64d" x="129.567373" y="182.673318" style="fill: #ffff00; stroke: #000000; stroke-width: 0.85"/>
<use href="#m139da3f64d" x="58.347572" y="210.503309" style="fill: #ffff00; stroke: #000000; stroke-width: 0.85"/>
<use href="#m139da3f64d" x="163.331801" y="210.699098" style="fill: #ffff00; stroke: #000000; stroke-width: 0.85"/>
<use href="#m139da3f64d" x="197.640296" y="227.443491" style="fill: #ffff00; stroke: #000000; stroke-width: 0.85"/>
<use href="#m139da3f64d" x="80.20431" y="208.635065" style="fill: #ffff00; stroke: #000000; stroke-width: 0.85"/>
<use href="#m139da3f64d" x="102.839648" y="224.969166" style="fill: #ffff00; stroke: #000000; stroke-width: 0.85"/>
<use href="#m139da3f64d" x="137.140682" y="253.637227" style="fill: #ffff00; stroke: #000000; stroke-width: 0.85"/>
<use href="#m139da3f64d" x="171.877205" y="271.531889" style="fill: #ffff00; stroke: #000000; stroke-width: 0.85"/>
</g>
</g>
<g id="Poly3DCollection_4">
<path d="M 90.209424 116.239705 L 111.611144 122.914675 L 136.887565 77.194558 L 115.658684 72.986794 z
" clip-path="url(#pda43976c72)" style="fill: #fdc527; stroke: #ffffff; stroke-width: 1.1"/>
<path d="M 111.611144 122.914675 L 133.286817 121.515731 L 158.447396 81.121587 L 136.887565 77.194558 z
" clip-path="url(#pda43976c72)" style="fill: #fccd25; stroke: #ffffff; stroke-width: 1.1"/>
<path d="M 133.286817 121.515731 L 155.296986 143.06831 L 180.131691 100.429719 L 158.447396 81.121587 z
" clip-path="url(#pda43976c72)" style="fill: #febb2b; stroke: #ffffff; stroke-width: 1.1"/>
<path d="M 155.296986 143.06831 L 188.613397 165.505297 L 212.836972 129.376311 L 180.131691 100.429719 z
" clip-path="url(#pda43976c72)" style="fill: #f48948; stroke: #ffffff; stroke-width: 1.1"/>
<path d="M 63.875956 159.468833 L 85.35022 161.710086 L 111.611144 122.914675 L 90.209424 116.239705 z
" clip-path="url(#pda43976c72)" style="fill: #ef7e50; stroke: #ffffff; stroke-width: 1.1"/>
<path d="M 188.613397 165.505297 L 222.418138 185.731992 L 246.239806 146.428012 L 212.836972 129.376311 z
" clip-path="url(#pda43976c72)" style="fill: #e26561; stroke: #ffffff; stroke-width: 1.1"/>
<path d="M 85.35022 161.710086 L 107.247062 166.248087 L 133.286817 121.515731 L 111.611144 122.914675 z
" clip-path="url(#pda43976c72)" style="fill: #f3874a; stroke: #ffffff; stroke-width: 1.1"/>
<path d="M 107.247062 166.248087 L 129.563006 181.808493 L 155.296986 143.06831 L 133.286817 121.515731 z
" clip-path="url(#pda43976c72)" style="fill: #ee7b51; stroke: #ffffff; stroke-width: 1.1"/>
<path d="M 36.381432 198.292663 L 58.171903 205.211667 L 85.35022 161.710086 L 63.875956 159.468833 z
" clip-path="url(#pda43976c72)" style="fill: #ce4b75; stroke: #ffffff; stroke-width: 1.1"/>
<path d="M 129.563006 181.808493 L 163.35546 207.818991 L 188.613397 165.505297 L 155.296986 143.06831 z
" clip-path="url(#pda43976c72)" style="fill: #d9586a; stroke: #ffffff; stroke-width: 1.1"/>
<path d="M 163.35546 207.818991 L 197.711052 224.211687 L 222.418138 185.731992 L 188.613397 165.505297 z
" clip-path="url(#pda43976c72)" style="fill: #c13b82; stroke: #ffffff; stroke-width: 1.1"/>
<path d="M 58.171903 205.211667 L 80.119917 205.198563 L 107.247062 166.248087 L 85.35022 161.710086 z
" clip-path="url(#pda43976c72)" style="fill: #d5536f; stroke: #ffffff; stroke-width: 1.1"/>
<path d="M 80.119917 205.198563 L 102.823957 223.972109 L 129.563006 181.808493 L 107.247062 166.248087 z
" clip-path="url(#pda43976c72)" style="fill: #ce4b75; stroke: #ffffff; stroke-width: 1.1"/>
<path d="M 102.823957 223.972109 L 137.132422 249.801692 L 163.35546 207.818991 L 129.563006 181.808493 z
" clip-path="url(#pda43976c72)" style="fill: #b12a90; stroke: #ffffff; stroke-width: 1.1"/>
<path d="M 137.132422 249.801692 L 171.92692 267.343871 L 197.711052 224.211687 L 163.35546 207.818991 z
" clip-path="url(#pda43976c72)" style="fill: #920fa3; stroke: #ffffff; stroke-width: 1.1"/>
</g>
<g id="Path3DCollection_4">
<defs>
<path id="mfc11e357d9" d="M 0.0000 2.5296 C 0.7501 2.5296 1.4696 2.2630 2.0000 1.7887 C 2.5304 1.3143 2.8284 0.6709 2.8284 0.0000 C 2.8284 -0.6709 2.5304 -1.3143 2.0000 -1.7887 C 1.4696 -2.2630 0.7501 -2.5296 0.0000 -2.5296 C -0.7501 -2.5296 -1.4696 -2.2630 -2.0000 -1.7887 C -2.5304 -1.3143 -2.8284 -0.6709 -2.8284 0.0000 C -2.8284 0.6709 -2.5304 1.3143 -2.0000 1.7887 C -1.4696 2.2630 -0.7501 2.5296 0.0000 2.5296 z" style="stroke: #000000; stroke-width: 0.85"/>
</defs>
<g clip-path="url(#pda43976c72)">
<use href="#mfc11e357d9" x="115.658684" y="72.986794" style="fill: #008000; stroke: #000000; stroke-width: 0.85"/>
<use href="#mfc11e357d9" x="136.887565" y="77.194558" style="fill: #008000; stroke: #000000; stroke-width: 0.85"/>
<use href="#mfc11e357d9" x="158.447396" y="81.121587" style="fill: #008000; stroke: #000000; stroke-width: 0.85"/>
<use href="#mfc11e357d9" x="90.209424" y="116.239705" style="fill: #008000; stroke: #000000; stroke-width: 0.85"/>
<use href="#mfc11e357d9" x="180.131691" y="100.429719" style="fill: #008000; stroke: #000000; stroke-width: 0.85"/>
<use href="#mfc11e357d9" x="212.836972" y="129.376311" style="fill: #008000; stroke: #000000; stroke-width: 0.85"/>
<use href="#mfc11e357d9" x="111.611144" y="122.914675" style="fill: #008000; stroke: #000000; stroke-width: 0.85"/>
<use href="#mfc11e357d9" x="246.239806" y="146.428012" style="fill: #008000; stroke: #000000; stroke-width: 0.85"/>
<use href="#mfc11e357d9" x="63.875956" y="159.468833" style="fill: #008000; stroke: #000000; stroke-width: 0.85"/>
<use href="#mfc11e357d9" x="133.286817" y="121.515731" style="fill: #008000; stroke: #000000; stroke-width: 0.85"/>
<use href="#mfc11e357d9" x="155.296986" y="143.06831" style="fill: #008000; stroke: #000000; stroke-width: 0.85"/>
<use href="#mfc11e357d9" x="188.613397" y="165.505297" style="fill: #008000; stroke: #000000; stroke-width: 0.85"/>
<use href="#mfc11e357d9" x="85.35022" y="161.710086" style="fill: #008000; stroke: #000000; stroke-width: 0.85"/>
<use href="#mfc11e357d9" x="222.418138" y="185.731992" style="fill: #008000; stroke: #000000; stroke-width: 0.85"/>
<use href="#mfc11e357d9" x="107.247062" y="166.248087" style="fill: #008000; stroke: #000000; stroke-width: 0.85"/>
<use href="#mfc11e357d9" x="36.381432" y="198.292663" style="fill: #008000; stroke: #000000; stroke-width: 0.85"/>
<use href="#mfc11e357d9" x="129.563006" y="181.808493" style="fill: #008000; stroke: #000000; stroke-width: 0.85"/>
<use href="#mfc11e357d9" x="163.35546" y="207.818991" style="fill: #008000; stroke: #000000; stroke-width: 0.85"/>
<use href="#mfc11e357d9" x="58.171903" y="205.211667" style="fill: #008000; stroke: #000000; stroke-width: 0.85"/>
<use href="#mfc11e357d9" x="197.711052" y="224.211687" style="fill: #008000; stroke: #000000; stroke-width: 0.85"/>
<use href="#mfc11e357d9" x="80.119917" y="205.198563" style="fill: #008000; stroke: #000000; stroke-width: 0.85"/>
<use href="#mfc11e357d9" x="102.823957" y="223.972109" style="fill: #008000; stroke: #000000; stroke-width: 0.85"/>
<use href="#mfc11e357d9" x="137.132422" y="249.801692" style="fill: #008000; stroke: #000000; stroke-width: 0.85"/>
<use href="#mfc11e357d9" x="171.92692" y="267.343871" style="fill: #008000; stroke: #000000; stroke-width: 0.85"/>
</g>
</g>
</g>
<g id="axes_2">
<g id="patch_7">
<path d="M 1.963636 35.457671 L 275.283117 35.457671 L 275.283117 21.241152 L 1.963636 21.241152 z
" style="fill: #ffffff"/>
</g>
<rect transform="scale(1 -1) translate(0 -14.025974)" x="1.87013" y="-20.571429" width="273.038961" height="14.025974" fill="url(#plasmaG)"/>
<g id="matplotlib.axis_1">
<g id="xtick_21">
<g id="line2d_28">
<defs>
<path id="m3040c0677d" d="M 0.0000 0.0000 L 0.0000 -6.3498" style="stroke: #1a1a1a"/>
</defs>
<g>
<use href="#m3040c0677d" x="25.868831" y="21.241152" style="fill: #1a1a1a; stroke: #1a1a1a"/>
</g>
</g>
<g id="text_25">
<text style="font-size: 9.270px; font-family: Liberation Sans; stroke: #262626; stroke-width: 0.2px; text-anchor: middle; fill: #262626" x="25.868831" y="9.068809" transform="rotate(-0 25.868831 9.068809)" textLength="17.184" lengthAdjust="spacingAndGlyphs">150</text>
</g>
</g>
<g id="xtick_22">
<g id="line2d_29">
<g>
<use href="#m3040c0677d" x="51.518182" y="21.241152" style="fill: #1a1a1a; stroke: #1a1a1a"/>
</g>
</g>
<g id="text_26">
<text style="font-size: 9.270px; font-family: Liberation Sans; stroke: #262626; stroke-width: 0.2px; text-anchor: middle; fill: #262626" x="51.518182" y="9.068809" transform="rotate(-0 51.518182 9.068809)" textLength="17.184" lengthAdjust="spacingAndGlyphs">175</text>
</g>
</g>
<g id="xtick_23">
<g id="line2d_30">
<g>
<use href="#m3040c0677d" x="77.167532" y="21.241152" style="fill: #1a1a1a; stroke: #1a1a1a"/>
</g>
</g>
<g id="text_27">
<text style="font-size: 9.270px; font-family: Liberation Sans; stroke: #262626; stroke-width: 0.2px; text-anchor: middle; fill: #262626" x="77.167532" y="9.068809" transform="rotate(-0 77.167532 9.068809)" textLength="17.184" lengthAdjust="spacingAndGlyphs">200</text>
</g>
</g>
<g id="xtick_24">
<g id="line2d_31">
<g>
<use href="#m3040c0677d" x="102.816883" y="21.241152" style="fill: #1a1a1a; stroke: #1a1a1a"/>
</g>
</g>
<g id="text_28">
<text style="font-size: 9.270px; font-family: Liberation Sans; stroke: #262626; stroke-width: 0.2px; text-anchor: middle; fill: #262626" x="102.816883" y="9.068809" transform="rotate(-0 102.816883 9.068809)" textLength="17.184" lengthAdjust="spacingAndGlyphs">225</text>
</g>
</g>
<g id="xtick_25">
<g id="line2d_32">
<g>
<use href="#m3040c0677d" x="128.466234" y="21.241152" style="fill: #1a1a1a; stroke: #1a1a1a"/>
</g>
</g>
<g id="text_29">
<text style="font-size: 9.270px; font-family: Liberation Sans; stroke: #262626; stroke-width: 0.2px; text-anchor: middle; fill: #262626" x="128.466234" y="9.068809" transform="rotate(-0 128.466234 9.068809)" textLength="17.184" lengthAdjust="spacingAndGlyphs">250</text>
</g>
</g>
<g id="xtick_26">
<g id="line2d_33">
<g>
<use href="#m3040c0677d" x="154.115584" y="21.241152" style="fill: #1a1a1a; stroke: #1a1a1a"/>
</g>
</g>
<g id="text_30">
<text style="font-size: 9.270px; font-family: Liberation Sans; stroke: #262626; stroke-width: 0.2px; text-anchor: middle; fill: #262626" x="154.115584" y="9.068809" transform="rotate(-0 154.115584 9.068809)" textLength="17.184" lengthAdjust="spacingAndGlyphs">275</text>
</g>
</g>
<g id="xtick_27">
<g id="line2d_34">
<g>
<use href="#m3040c0677d" x="179.764935" y="21.241152" style="fill: #1a1a1a; stroke: #1a1a1a"/>
</g>
</g>
<g id="text_31">
<text style="font-size: 9.270px; font-family: Liberation Sans; stroke: #262626; stroke-width: 0.2px; text-anchor: middle; fill: #262626" x="179.764935" y="9.068809" transform="rotate(-0 179.764935 9.068809)" textLength="17.184" lengthAdjust="spacingAndGlyphs">300</text>
</g>
</g>
<g id="xtick_28">
<g id="line2d_35">
<g>
<use href="#m3040c0677d" x="205.414286" y="21.241152" style="fill: #1a1a1a; stroke: #1a1a1a"/>
</g>
</g>
<g id="text_32">
<text style="font-size: 9.270px; font-family: Liberation Sans; stroke: #262626; stroke-width: 0.2px; text-anchor: middle; fill: #262626" x="205.414286" y="9.068809" transform="rotate(-0 205.414286 9.068809)" textLength="17.184" lengthAdjust="spacingAndGlyphs">325</text>
</g>
</g>
<g id="xtick_29">
<g id="line2d_36">
<g>
<use href="#m3040c0677d" x="231.063636" y="21.241152" style="fill: #1a1a1a; stroke: #1a1a1a"/>
</g>
</g>
<g id="text_33">
<text style="font-size: 9.270px; font-family: Liberation Sans; stroke: #262626; stroke-width: 0.2px; text-anchor: middle; fill: #262626" x="231.063636" y="9.068809" transform="rotate(-0 231.063636 9.068809)" textLength="17.184" lengthAdjust="spacingAndGlyphs">350</text>
</g>
</g>
<g id="xtick_30">
<g id="line2d_37">
<g>
<use href="#m3040c0677d" x="256.712987" y="21.241152" style="fill: #1a1a1a; stroke: #1a1a1a"/>
</g>
</g>
<g id="text_34">
<text style="font-size: 9.270px; font-family: Liberation Sans; stroke: #262626; stroke-width: 0.2px; text-anchor: middle; fill: #262626" x="256.712987" y="9.068809" transform="rotate(-0 256.712987 9.068809)" textLength="17.184" lengthAdjust="spacingAndGlyphs">375</text>
</g>
</g>
</g>
<g id="matplotlib.axis_2"/>
<g id="LineCollection_1"/>
<g id="patch_8">
<path d="M 1.963636 35.457671 L 1.963636 28.349412 L 1.963636 21.241152 L 275.283117 21.241152 L 275.283117 28.349412 L 275.283117 35.457671 L 1.963636 35.457671 z
" style="fill: none; stroke: #000000; stroke-width: 1.2; stroke-linejoin: miter; stroke-linecap: square"/>
</g>
</g>
<g id="patch_9">
<path d="M 325.231127 310.371129 L 600.482961 310.371129 L 600.482961 35.119295 L 325.231127 35.119295 z
" style="fill: #ffffff"/>
</g>
<g id="pane3d_4">
<g id="patch_10">
<path d="M 346.014538 242.502848 L 436.911683 166.311058 L 435.648126 56.428878 L 340.401084 125.935831 " style="fill: #f2f2f2; opacity: 0.5; stroke: #f2f2f2; stroke-linejoin: miter"/>
</g>
</g>
<g id="pane3d_5">
<g id="patch_11">
<path d="M 436.911683 166.311058 L 582.769169 208.706071 L 587.974308 95.039125 L 435.648126 56.428878 " style="fill: #e6e6e6; opacity: 0.5; stroke: #e6e6e6; stroke-linejoin: miter"/>
</g>
</g>
<g id="pane3d_6">
<g id="patch_12">
<path d="M 346.014538 242.502848 L 500.630597 293.000452 L 582.769169 208.706071 L 436.911683 166.311058 " style="fill: #ececec; opacity: 0.5; stroke: #ececec; stroke-linejoin: miter"/>
</g>
</g>
<g id="grid3d_4">
<g id="Line3DCollection_4">
<path d="M 355.749501 245.682286 L 446.133253 168.991405 L 445.25964 58.865116 " style="fill: none; stroke: #d9d9d9; stroke-width: 1.1"/>
<path d="M 377.267776 252.710155 L 466.498504 174.910779 L 466.49514 64.247697 " style="fill: none; stroke: #d9d9d9; stroke-width: 1.1"/>
<path d="M 399.111748 259.844396 L 487.146385 180.912303 L 488.038124 69.708215 " style="fill: none; stroke: #d9d9d9; stroke-width: 1.1"/>
<path d="M 421.288869 267.087444 L 508.08282 186.997698 L 509.895319 75.248377 " style="fill: none; stroke: #d9d9d9; stroke-width: 1.1"/>
<path d="M 443.806819 274.441806 L 529.313901 193.168735 L 532.073649 80.869937 " style="fill: none; stroke: #d9d9d9; stroke-width: 1.1"/>
<path d="M 466.673514 281.910069 L 550.845893 199.427235 L 554.580244 86.574703 " style="fill: none; stroke: #d9d9d9; stroke-width: 1.1"/>
<path d="M 489.897122 289.494899 L 572.685237 205.77507 L 577.422446 92.364535 " style="fill: none; stroke: #d9d9d9; stroke-width: 1.1"/>
</g>
</g>
<g id="grid3d_5">
<g id="Line3DCollection_5">
<path d="M 347.200298 120.974074 L 352.480392 237.083041 L 506.497427 286.979641 " style="fill: none; stroke: #d9d9d9; stroke-width: 1.1"/>
<path d="M 361.909495 110.239972 L 366.48039 225.347965 L 519.187765 273.956232 " style="fill: none; stroke: #d9d9d9; stroke-width: 1.1"/>
<path d="M 376.234387 99.786318 L 380.130387 213.906267 L 531.544216 261.275473 " style="fill: none; stroke: #d9d9d9; stroke-width: 1.1"/>
<path d="M 390.189841 89.602264 L 393.443345 202.747082 L 543.579787 248.924017 " style="fill: none; stroke: #d9d9d9; stroke-width: 1.1"/>
<path d="M 403.789967 79.677511 L 406.431595 191.860073 L 555.306817 236.889199 " style="fill: none; stroke: #d9d9d9; stroke-width: 1.1"/>
<path d="M 417.048166 70.002282 L 419.106874 181.235402 L 566.73702 225.158999 " style="fill: none; stroke: #d9d9d9; stroke-width: 1.1"/>
<path d="M 429.977171 60.567283 L 431.48036 170.863702 L 577.881525 213.721995 " style="fill: none; stroke: #d9d9d9; stroke-width: 1.1"/>
</g>
</g>
<g id="grid3d_6">
<g id="Line3DCollection_6">
<path d="M 583.53291 192.0279 L 436.725949 150.159156 L 345.192069 225.423747 " style="fill: none; stroke: #d9d9d9; stroke-width: 1.1"/>
<path d="M 584.555646 169.693959 L 436.477411 128.545625 L 344.090054 202.539683 " style="fill: none; stroke: #d9d9d9; stroke-width: 1.1"/>
<path d="M 585.596427 146.965969 L 436.224699 106.569161 L 342.967846 179.236298 " style="fill: none; stroke: #d9d9d9; stroke-width: 1.1"/>
<path d="M 586.655734 123.833409 L 435.967708 84.220546 L 341.824884 155.501957 " style="fill: none; stroke: #d9d9d9; stroke-width: 1.1"/>
<path d="M 587.734067 100.28538 L 435.706328 61.490246 L 340.660588 131.324597 " style="fill: none; stroke: #d9d9d9; stroke-width: 1.1"/>
</g>
</g>
<g id="axis3d_4">
<g id="line2d_38">
<path d="M 346.014538 242.502848 L 500.630597 293.000452 " style="fill: none; stroke: #1a1a1a; stroke-width: 1.3; stroke-linecap: square"/>
</g>
<g id="xtick_31">
<g id="line2d_39">
<path d="M 356.811773 244.780945 L 353.618799 247.490193 " style="fill: none; stroke: #262626; stroke-width: 1.2; stroke-linecap: square"/>
</g>
<g id="text_35">
<text style="font-size: 10.298px; font-family: Liberation Sans; stroke: #262626; stroke-width: 0.2px; text-anchor: middle; fill: #262626" x="347.235862" y="271.050353" transform="rotate(-0 347.235862 271.050353)" dy="0.6" textLength="6.363" lengthAdjust="spacingAndGlyphs">0</text>
</g>
</g>
<g id="xtick_32">
<g id="line2d_40">
<path d="M 378.317135 251.795229 L 375.162929 254.545349 " style="fill: none; stroke: #262626; stroke-width: 1.2; stroke-linecap: square"/>
</g>
<g id="text_36">
<text style="font-size: 10.298px; font-family: Liberation Sans; stroke: #262626; stroke-width: 0.2px; text-anchor: middle; fill: #262626" x="368.778049" y="278.241012" transform="rotate(-0 368.778049 278.241012)" dy="0.6" textLength="12.726" lengthAdjust="spacingAndGlyphs">10</text>
</g>
</g>
<g id="xtick_33">
<g id="line2d_41">
<path d="M 400.14768 258.915577 L 397.033789 261.7075 " style="fill: none; stroke: #262626; stroke-width: 1.2; stroke-linecap: square"/>
</g>
<g id="text_37">
<text style="font-size: 10.298px; font-family: Liberation Sans; stroke: #262626; stroke-width: 0.2px; text-anchor: middle; fill: #262626" x="390.647641" y="285.540957" transform="rotate(-0 390.647641 285.540957)" dy="0.6" textLength="12.726" lengthAdjust="spacingAndGlyphs">20</text>
</g>
</g>
<g id="xtick_34">
<g id="line2d_42">
<path d="M 422.310841 266.144412 L 419.238866 268.979099 " style="fill: none; stroke: #262626; stroke-width: 1.2; stroke-linecap: square"/>
</g>
<g id="text_38">
<text style="font-size: 10.298px; font-family: Liberation Sans; stroke: #262626; stroke-width: 0.2px; text-anchor: middle; fill: #262626" x="412.85216" y="292.952698" transform="rotate(-0 412.85216 292.952698)" dy="0.6" textLength="12.726" lengthAdjust="spacingAndGlyphs">30</text>
</g>
</g>
<g id="xtick_35">
<g id="line2d_43">
<path d="M 444.814278 273.484233 L 441.785881 276.362674 " style="fill: none; stroke: #262626; stroke-width: 1.2; stroke-linecap: square"/>
</g>
<g id="text_39">
<text style="font-size: 10.298px; font-family: Liberation Sans; stroke: #262626; stroke-width: 0.2px; text-anchor: middle; fill: #262626" x="435.399357" y="300.478824" transform="rotate(-0 435.399357 300.478824)" dy="0.6" textLength="12.726" lengthAdjust="spacingAndGlyphs">40</text>
</g>
</g>
<g id="xtick_36">
<g id="line2d_44">
<path d="M 467.665887 280.937615 L 464.682793 283.860832 " style="fill: none; stroke: #262626; stroke-width: 1.2; stroke-linecap: square"/>
</g>
<g id="text_40">
<text style="font-size: 10.298px; font-family: Liberation Sans; stroke: #262626; stroke-width: 0.2px; text-anchor: middle; fill: #262626" x="458.297229" y="308.122003" transform="rotate(-0 458.297229 308.122003)" dy="0.6" textLength="12.726" lengthAdjust="spacingAndGlyphs">50</text>
</g>
</g>
<g id="xtick_37">
<g id="line2d_45">
<path d="M 490.873813 288.507215 L 487.937811 291.47626 " style="fill: none; stroke: #262626; stroke-width: 1.2; stroke-linecap: square"/>
</g>
<g id="text_41">
<text style="font-size: 10.298px; font-family: Liberation Sans; stroke: #262626; stroke-width: 0.2px; text-anchor: middle; fill: #262626" x="481.55402" y="315.884986" transform="rotate(-0 481.55402 315.884986)" dy="0.6" textLength="12.726" lengthAdjust="spacingAndGlyphs">60</text>
</g>
</g>
</g>
<g id="axis3d_5">
<g id="line2d_46">
<path d="M 582.769169 208.706071 L 500.630597 293.000452 " style="fill: none; stroke: #1a1a1a; stroke-width: 1.3; stroke-linecap: square"/>
</g>
<g id="xtick_38">
<g id="line2d_47">
<path d="M 504.745535 286.412084 L 510.007329 288.116737 " style="fill: none; stroke: #262626; stroke-width: 1.2; stroke-linecap: square"/>
</g>
<g id="text_42">
<text style="font-size: 10.298px; font-family: Liberation Sans; stroke: #262626; stroke-width: 0.2px; text-anchor: middle; fill: #262626" x="521.056266" y="309.75079" transform="rotate(-0 521.056266 309.75079)" dy="0.6" textLength="31.815" lengthAdjust="spacingAndGlyphs">10000</text>
</g>
</g>
<g id="xtick_39">
<g id="line2d_48">
<path d="M 517.451939 273.403702 L 522.665397 275.063197 " style="fill: none; stroke: #262626; stroke-width: 1.2; stroke-linecap: square"/>
</g>
<g id="text_43">
<text style="font-size: 10.298px; font-family: Liberation Sans; stroke: #262626; stroke-width: 0.2px; text-anchor: middle; fill: #262626" x="533.560595" y="296.516593" transform="rotate(-0 533.560595 296.516593)" dy="0.6" textLength="31.815" lengthAdjust="spacingAndGlyphs">15000</text>
</g>
</g>
<g id="xtick_40">
<g id="line2d_49">
<path d="M 529.824223 260.73738 L 534.990051 262.353489 " style="fill: none; stroke: #262626; stroke-width: 1.2; stroke-linecap: square"/>
</g>
<g id="text_44">
<text style="font-size: 10.298px; font-family: Liberation Sans; stroke: #262626; stroke-width: 0.2px; text-anchor: middle; fill: #262626" x="545.735721" y="283.630814" transform="rotate(-0 545.735721 283.630814)" dy="0.6" textLength="31.815" lengthAdjust="spacingAndGlyphs">20000</text>
</g>
</g>
<g id="xtick_41">
<g id="line2d_50">
<path d="M 541.875395 248.399803 L 546.994293 249.974204 " style="fill: none; stroke: #262626; stroke-width: 1.2; stroke-linecap: square"/>
</g>
<g id="text_45">
<text style="font-size: 10.298px; font-family: Liberation Sans; stroke: #262626; stroke-width: 0.2px; text-anchor: middle; fill: #262626" x="557.594477" y="271.079872" transform="rotate(-0 557.594477 271.079872)" dy="0.6" textLength="31.815" lengthAdjust="spacingAndGlyphs">25000</text>
</g>
</g>
<g id="xtick_42">
<g id="line2d_51">
<path d="M 553.617795 236.378334 L 558.690456 237.912622 " style="fill: none; stroke: #262626; stroke-width: 1.2; stroke-linecap: square"/>
</g>
<g id="text_46">
<text style="font-size: 10.298px; font-family: Liberation Sans; stroke: #262626; stroke-width: 0.2px; text-anchor: middle; fill: #262626" x="569.149036" y="258.850882" transform="rotate(-0 569.149036 258.850882)" dy="0.6" textLength="31.815" lengthAdjust="spacingAndGlyphs">30000</text>
</g>
</g>
<g id="xtick_43">
<g id="line2d_52">
<path d="M 565.063142 224.660979 L 570.090251 226.156667 " style="fill: none; stroke: #262626; stroke-width: 1.2; stroke-linecap: square"/>
</g>
<g id="text_47">
<text style="font-size: 10.298px; font-family: Liberation Sans; stroke: #262626; stroke-width: 0.2px; text-anchor: middle; fill: #262626" x="580.410955" y="246.931615" transform="rotate(-0 580.410955 246.931615)" dy="0.6" textLength="31.815" lengthAdjust="spacingAndGlyphs">35000</text>
</g>
</g>
<g id="xtick_44">
<g id="line2d_53">
<path d="M 576.222566 213.236342 L 581.204801 214.69487 " style="fill: none; stroke: #262626; stroke-width: 1.2; stroke-linecap: square"/>
</g>
<g id="text_48">
<text style="font-size: 10.298px; font-family: Liberation Sans; stroke: #262626; stroke-width: 0.2px; text-anchor: middle; fill: #262626" x="591.391211" y="235.31045" transform="rotate(-0 591.391211 235.31045)" dy="0.6" textLength="31.815" lengthAdjust="spacingAndGlyphs">40000</text>
</g>
</g>
</g>
<g id="axis3d_6">
<g id="line2d_54">
<path d="M 582.769169 208.706071 L 587.974308 95.039125 " style="fill: none; stroke: #1a1a1a; stroke-width: 1.3; stroke-linecap: square"/>
</g>
<g id="xtick_45">
<g id="line2d_55">
<path d="M 581.869276 191.553438 L 586.865557 192.978357 " style="fill: none; stroke: #262626; stroke-width: 1.2; stroke-linecap: square"/>
</g>
<g id="text_49">
<text style="font-size: 10.298px; font-family: Liberation Sans; stroke: #262626; stroke-width: 0.2px; text-anchor: middle; fill: #262626" x="604.288655" y="196.718844" transform="rotate(-0 604.288655 196.718844)" dy="0.6" textLength="19.089" lengthAdjust="spacingAndGlyphs">150</text>
</g>
</g>
<g id="xtick_46">
<g id="line2d_56">
<path d="M 582.876917 169.22747 L 587.918579 170.628459 " style="fill: none; stroke: #262626; stroke-width: 1.2; stroke-linecap: square"/>
</g>
<g id="text_50">
<text style="font-size: 10.298px; font-family: Liberation Sans; stroke: #262626; stroke-width: 0.2px; text-anchor: middle; fill: #262626" x="605.488887" y="174.433839" transform="rotate(-0 605.488887 174.433839)" dy="0.6" textLength="19.089" lengthAdjust="spacingAndGlyphs">200</text>
</g>
</g>
<g id="xtick_47">
<g id="line2d_57">
<path d="M 583.902327 146.507809 L 588.990201 147.883798 " style="fill: none; stroke: #262626; stroke-width: 1.2; stroke-linecap: square"/>
</g>
<g id="text_51">
<text style="font-size: 10.298px; font-family: Liberation Sans; stroke: #262626; stroke-width: 0.2px; text-anchor: middle; fill: #262626" x="606.710223" y="151.756968" transform="rotate(-0 606.710223 151.756968)" dy="0.6" textLength="19.089" lengthAdjust="spacingAndGlyphs">250</text>
</g>
</g>
<g id="xtick_48">
<g id="line2d_58">
<path d="M 584.945979 123.383949 L 590.080919 124.733822 " style="fill: none; stroke: #262626; stroke-width: 1.2; stroke-linecap: square"/>
</g>
<g id="text_52">
<text style="font-size: 10.298px; font-family: Liberation Sans; stroke: #262626; stroke-width: 0.2px; text-anchor: middle; fill: #262626" x="607.953227" y="128.677804" transform="rotate(-0 607.953227 128.677804)" dy="0.6" textLength="19.089" lengthAdjust="spacingAndGlyphs">300</text>
</g>
</g>
<g id="xtick_49">
<g id="line2d_59">
<path d="M 586.008366 99.845007 L 591.191248 101.167599 " style="fill: none; stroke: #262626; stroke-width: 1.2; stroke-linecap: square"/>
</g>
<g id="text_53">
<text style="font-size: 10.298px; font-family: Liberation Sans; stroke: #262626; stroke-width: 0.2px; text-anchor: middle; fill: #262626" x="609.218479" y="105.185545" transform="rotate(-0 609.218479 105.185545)" dy="0.6" textLength="19.089" lengthAdjust="spacingAndGlyphs">350</text>
</g>
</g>
</g>
<g id="axes_3">
<g id="Poly3DCollection_5">
<path d="M 414.492876 127.42949 L 435.868115 139.281229 L 461.005967 101.087503 L 439.898098 90.361643 z
" clip-path="url(#pefdb9afac8)" style="fill: #d9586a; stroke: #ffffff; stroke-width: 1.1"/>
<path d="M 435.868115 139.281229 L 457.451601 149.198237 L 482.363091 107.141598 L 461.005967 101.087503 z
" clip-path="url(#pefdb9afac8)" style="fill: #d24f71; stroke: #ffffff; stroke-width: 1.1"/>
<path d="M 457.451601 149.198237 L 479.244316 168.218139 L 503.913013 121.054989 L 482.363091 107.141598 z
" clip-path="url(#pefdb9afac8)" style="fill: #c6417d; stroke: #ffffff; stroke-width: 1.1"/>
<path d="M 479.244316 168.218139 L 512.370952 183.334765 L 536.495416 145.050953 L 503.913013 121.054989 z
" clip-path="url(#pefdb9afac8)" style="fill: #ae2892; stroke: #ffffff; stroke-width: 1.1"/>
<path d="M 388.146133 166.492077 L 409.774322 178.170739 L 435.868115 139.281229 L 414.492876 127.42949 z
" clip-path="url(#pefdb9afac8)" style="fill: #b52f8c; stroke: #ffffff; stroke-width: 1.1"/>
<path d="M 512.370952 183.334765 L 546.177025 196.068564 L 569.654701 163.220601 L 536.495416 145.050953 z
" clip-path="url(#pefdb9afac8)" style="fill: #99159f; stroke: #ffffff; stroke-width: 1.1"/>
<path d="M 409.774322 178.170739 L 431.566436 184.972866 L 457.451601 149.198237 L 435.868115 139.281229 z
" clip-path="url(#pefdb9afac8)" style="fill: #ac2694; stroke: #ffffff; stroke-width: 1.1"/>
<path d="M 431.566436 184.972866 L 453.714223 198.510284 L 479.244316 168.218139 L 457.451601 149.198237 z
" clip-path="url(#pefdb9afac8)" style="fill: #9d189d; stroke: #ffffff; stroke-width: 1.1"/>
<path d="M 453.714223 198.510284 L 487.360478 216.003667 L 512.370952 183.334765 L 479.244316 168.218139 z
" clip-path="url(#pefdb9afac8)" style="fill: #8606a6; stroke: #ffffff; stroke-width: 1.1"/>
<path d="M 360.920075 209.971525 L 382.807682 222.691072 L 409.774322 178.170739 L 388.146133 166.492077 z
" clip-path="url(#pefdb9afac8)" style="fill: #8104a7; stroke: #ffffff; stroke-width: 1.1"/>
<path d="M 382.807682 222.691072 L 404.811513 230.957984 L 431.566436 184.972866 L 409.774322 178.170739 z
" clip-path="url(#pefdb9afac8)" style="fill: #7701a8; stroke: #ffffff; stroke-width: 1.1"/>
<path d="M 487.360478 216.003667 L 521.728779 226.954834 L 546.177025 196.068564 L 512.370952 183.334765 z
" clip-path="url(#pefdb9afac8)" style="fill: #7801a8; stroke: #ffffff; stroke-width: 1.1"/>
<path d="M 404.811513 230.957984 L 427.208796 244.450576 L 453.714223 198.510284 L 431.566436 184.972866 z
" clip-path="url(#pefdb9afac8)" style="fill: #6a00a8; stroke: #ffffff; stroke-width: 1.1"/>
<path d="M 427.208796 244.450576 L 461.228056 262.604574 L 487.360478 216.003667 L 453.714223 198.510284 z
" clip-path="url(#pefdb9afac8)" style="fill: #5302a3; stroke: #ffffff; stroke-width: 1.1"/>
<path d="M 461.228056 262.604574 L 495.896262 276.137704 L 521.728779 226.954834 L 487.360478 216.003667 z
" clip-path="url(#pefdb9afac8)" style="fill: #44039e; stroke: #ffffff; stroke-width: 1.1"/>
</g>
<g id="Path3DCollection_5">
<g clip-path="url(#pefdb9afac8)">
<use href="#m2ebb7b896f" x="439.898098" y="90.361643" style="fill: #ff0000; stroke: #000000; stroke-width: 0.85"/>
<use href="#m2ebb7b896f" x="461.005967" y="101.087503" style="fill: #ff0000; stroke: #000000; stroke-width: 0.85"/>
<use href="#m2ebb7b896f" x="482.363091" y="107.141598" style="fill: #ff0000; stroke: #000000; stroke-width: 0.85"/>
<use href="#m2ebb7b896f" x="503.913013" y="121.054989" style="fill: #ff0000; stroke: #000000; stroke-width: 0.85"/>
<use href="#m2ebb7b896f" x="414.492876" y="127.42949" style="fill: #ff0000; stroke: #000000; stroke-width: 0.85"/>
<use href="#m2ebb7b896f" x="536.495416" y="145.050953" style="fill: #ff0000; stroke: #000000; stroke-width: 0.85"/>
<use href="#m2ebb7b896f" x="435.868115" y="139.281229" style="fill: #ff0000; stroke: #000000; stroke-width: 0.85"/>
<use href="#m2ebb7b896f" x="569.654701" y="163.220601" style="fill: #ff0000; stroke: #000000; stroke-width: 0.85"/>
<use href="#m2ebb7b896f" x="457.451601" y="149.198237" style="fill: #ff0000; stroke: #000000; stroke-width: 0.85"/>
<use href="#m2ebb7b896f" x="479.244316" y="168.218139" style="fill: #ff0000; stroke: #000000; stroke-width: 0.85"/>
<use href="#m2ebb7b896f" x="388.146133" y="166.492077" style="fill: #ff0000; stroke: #000000; stroke-width: 0.85"/>
<use href="#m2ebb7b896f" x="512.370952" y="183.334765" style="fill: #ff0000; stroke: #000000; stroke-width: 0.85"/>
<use href="#m2ebb7b896f" x="409.774322" y="178.170739" style="fill: #ff0000; stroke: #000000; stroke-width: 0.85"/>
<use href="#m2ebb7b896f" x="431.566436" y="184.972866" style="fill: #ff0000; stroke: #000000; stroke-width: 0.85"/>
<use href="#m2ebb7b896f" x="546.177025" y="196.068564" style="fill: #ff0000; stroke: #000000; stroke-width: 0.85"/>
<use href="#m2ebb7b896f" x="453.714223" y="198.510284" style="fill: #ff0000; stroke: #000000; stroke-width: 0.85"/>
<use href="#m2ebb7b896f" x="360.920075" y="209.971525" style="fill: #ff0000; stroke: #000000; stroke-width: 0.85"/>
<use href="#m2ebb7b896f" x="382.807682" y="222.691072" style="fill: #ff0000; stroke: #000000; stroke-width: 0.85"/>
<use href="#m2ebb7b896f" x="487.360478" y="216.003667" style="fill: #ff0000; stroke: #000000; stroke-width: 0.85"/>
<use href="#m2ebb7b896f" x="404.811513" y="230.957984" style="fill: #ff0000; stroke: #000000; stroke-width: 0.85"/>
<use href="#m2ebb7b896f" x="427.208796" y="244.450576" style="fill: #ff0000; stroke: #000000; stroke-width: 0.85"/>
<use href="#m2ebb7b896f" x="521.728779" y="226.954834" style="fill: #ff0000; stroke: #000000; stroke-width: 0.85"/>
<use href="#m2ebb7b896f" x="461.228056" y="262.604574" style="fill: #ff0000; stroke: #000000; stroke-width: 0.85"/>
<use href="#m2ebb7b896f" x="495.896262" y="276.137704" style="fill: #ff0000; stroke: #000000; stroke-width: 0.85"/>
</g>
</g>
<g id="Poly3DCollection_6">
<path d="M 414.3684 121.171185 L 435.758153 129.946873 L 460.986284 91.741887 L 439.835044 84.084934 z
" clip-path="url(#pefdb9afac8)" style="fill: #e66c5c; stroke: #ffffff; stroke-width: 1.1"/>
<path d="M 435.758153 129.946873 L 457.413072 138.233421 L 482.428895 96.141495 L 460.986284 91.741887 z
" clip-path="url(#pefdb9afac8)" style="fill: #e4695e; stroke: #ffffff; stroke-width: 1.1"/>
<path d="M 457.413072 138.233421 L 479.305144 155.839833 L 504.090228 108.595568 L 482.428895 96.141495 z
" clip-path="url(#pefdb9afac8)" style="fill: #dc5d67; stroke: #ffffff; stroke-width: 1.1"/>
<path d="M 479.305144 155.839833 L 512.426423 180.230561 L 536.579734 141.914281 L 504.090228 108.595568 z
" clip-path="url(#pefdb9afac8)" style="fill: #c13b82; stroke: #ffffff; stroke-width: 1.1"/>
<path d="M 387.973344 160.809111 L 409.580302 169.399622 L 435.758153 129.946873 L 414.3684 121.171185 z
" clip-path="url(#pefdb9afac8)" style="fill: #c6417d; stroke: #ffffff; stroke-width: 1.1"/>
<path d="M 512.426423 180.230561 L 546.262945 193.316127 L 569.765405 160.446679 L 536.579734 141.914281 z
" clip-path="url(#pefdb9afac8)" style="fill: #a11b9b; stroke: #ffffff; stroke-width: 1.1"/>
<path d="M 409.580302 169.399622 L 431.423806 174.539175 L 457.413072 138.233421 L 435.758153 129.946873 z
" clip-path="url(#pefdb9afac8)" style="fill: #c33d80; stroke: #ffffff; stroke-width: 1.1"/>
<path d="M 431.423806 174.539175 L 453.654081 186.598503 L 479.305144 155.839833 L 457.413072 138.233421 z
" clip-path="url(#pefdb9afac8)" style="fill: #ba3388; stroke: #ffffff; stroke-width: 1.1"/>
<path d="M 453.654081 186.598503 L 487.381293 213.469805 L 512.426423 180.230561 L 479.305144 155.839833 z
" clip-path="url(#pefdb9afac8)" style="fill: #9a169f; stroke: #ffffff; stroke-width: 1.1"/>
<path d="M 360.596901 202.214364 L 382.44757 211.843471 L 409.580302 169.399622 L 387.973344 160.809111 z
" clip-path="url(#pefdb9afac8)" style="fill: #99159f; stroke: #ffffff; stroke-width: 1.1"/>
<path d="M 487.381293 213.469805 L 521.776504 224.774948 L 546.262945 193.316127 L 512.426423 180.230561 z
" clip-path="url(#pefdb9afac8)" style="fill: #8104a7; stroke: #ffffff; stroke-width: 1.1"/>
<path d="M 382.44757 211.843471 L 404.504254 218.446325 L 431.423806 174.539175 L 409.580302 169.399622 z
" clip-path="url(#pefdb9afac8)" style="fill: #9613a1; stroke: #ffffff; stroke-width: 1.1"/>
<path d="M 404.504254 218.446325 L 426.988587 230.45753 L 453.654081 186.598503 L 431.423806 174.539175 z
" clip-path="url(#pefdb9afac8)" style="fill: #910ea3; stroke: #ffffff; stroke-width: 1.1"/>
<path d="M 426.988587 230.45753 L 461.218134 257.997674 L 487.381293 213.469805 L 453.654081 186.598503 z
" clip-path="url(#pefdb9afac8)" style="fill: #6f00a8; stroke: #ffffff; stroke-width: 1.1"/>
<path d="M 461.218134 257.997674 L 495.946829 271.877919 L 521.776504 224.774948 L 487.381293 213.469805 z
" clip-path="url(#pefdb9afac8)" style="fill: #5002a2; stroke: #ffffff; stroke-width: 1.1"/>
</g>
<g id="Path3DCollection_6">
<g clip-path="url(#pefdb9afac8)">
<use href="#m692a02ad62" x="439.835044" y="84.084934" style="fill: #0000ff; stroke: #000000; stroke-width: 0.85"/>
<use href="#m692a02ad62" x="460.986284" y="91.741887" style="fill: #0000ff; stroke: #000000; stroke-width: 0.85"/>
<use href="#m692a02ad62" x="482.428895" y="96.141495" style="fill: #0000ff; stroke: #000000; stroke-width: 0.85"/>
<use href="#m692a02ad62" x="414.3684" y="121.171185" style="fill: #0000ff; stroke: #000000; stroke-width: 0.85"/>
<use href="#m692a02ad62" x="504.090228" y="108.595568" style="fill: #0000ff; stroke: #000000; stroke-width: 0.85"/>
<use href="#m692a02ad62" x="536.579734" y="141.914281" style="fill: #0000ff; stroke: #000000; stroke-width: 0.85"/>
<use href="#m692a02ad62" x="435.758153" y="129.946873" style="fill: #0000ff; stroke: #000000; stroke-width: 0.85"/>
<use href="#m692a02ad62" x="569.765405" y="160.446679" style="fill: #0000ff; stroke: #000000; stroke-width: 0.85"/>
<use href="#m692a02ad62" x="457.413072" y="138.233421" style="fill: #0000ff; stroke: #000000; stroke-width: 0.85"/>
<use href="#m692a02ad62" x="479.305144" y="155.839833" style="fill: #0000ff; stroke: #000000; stroke-width: 0.85"/>
<use href="#m692a02ad62" x="387.973344" y="160.809111" style="fill: #0000ff; stroke: #000000; stroke-width: 0.85"/>
<use href="#m692a02ad62" x="512.426423" y="180.230561" style="fill: #0000ff; stroke: #000000; stroke-width: 0.85"/>
<use href="#m692a02ad62" x="409.580302" y="169.399622" style="fill: #0000ff; stroke: #000000; stroke-width: 0.85"/>
<use href="#m692a02ad62" x="546.262945" y="193.316127" style="fill: #0000ff; stroke: #000000; stroke-width: 0.85"/>
<use href="#m692a02ad62" x="431.423806" y="174.539175" style="fill: #0000ff; stroke: #000000; stroke-width: 0.85"/>
<use href="#m692a02ad62" x="360.596901" y="202.214364" style="fill: #0000ff; stroke: #000000; stroke-width: 0.85"/>
<use href="#m692a02ad62" x="453.654081" y="186.598503" style="fill: #0000ff; stroke: #000000; stroke-width: 0.85"/>
<use href="#m692a02ad62" x="487.381293" y="213.469805" style="fill: #0000ff; stroke: #000000; stroke-width: 0.85"/>
<use href="#m692a02ad62" x="382.44757" y="211.843471" style="fill: #0000ff; stroke: #000000; stroke-width: 0.85"/>
<use href="#m692a02ad62" x="404.504254" y="218.446325" style="fill: #0000ff; stroke: #000000; stroke-width: 0.85"/>
<use href="#m692a02ad62" x="521.776504" y="224.774948" style="fill: #0000ff; stroke: #000000; stroke-width: 0.85"/>
<use href="#m692a02ad62" x="426.988587" y="230.45753" style="fill: #0000ff; stroke: #000000; stroke-width: 0.85"/>
<use href="#m692a02ad62" x="461.218134" y="257.997674" style="fill: #0000ff; stroke: #000000; stroke-width: 0.85"/>
<use href="#m692a02ad62" x="495.946829" y="271.877919" style="fill: #0000ff; stroke: #000000; stroke-width: 0.85"/>
</g>
</g>
<g id="legend_2">
<g id="patch_13">
<path d="M 333.146494 74.300721 L 483.615619 74.300721 Q 485.655619 74.300721 485.655619 72.260721 L 485.655619 42.766146 Q 485.655619 40.726146 483.615619 40.726146 L 333.146494 40.726146 Q 331.106494 40.726146 331.106494 42.766146 L 331.106494 72.260721 Q 331.106494 74.300721 333.146494 74.300721 z
" style="fill: #d3d3d3; opacity: 0.8; stroke: #d3d3d3; stroke-linejoin: miter"/>
</g><g transform="translate(0 0.8)">
<g id="line2d_60">
<g>
<use href="#m4e5742e4b6" x="345.386494" y="48.986552" style="fill: #ffff00; stroke: #000000; stroke-width: 0.85"/>
</g>
</g>
<g id="text_54">
<text style="font-size: 10.503px; font-family: Liberation Sans; stroke: #262626; stroke-width: 0.2px; text-anchor: start; fill: #262626" x="363.746494" y="52.556552" transform="rotate(-0 363.746494 52.556552)" textLength="32.801" lengthAdjust="spacingAndGlyphs">S/D=2</text>
</g>
<g id="line2d_61">
<g>
<use href="#m6e47d3a416" x="345.386494" y="64.52944" style="fill: #008000; stroke: #000000; stroke-width: 0.85"/>
</g>
</g>
<g id="text_55">
<text style="font-size: 10.503px; font-family: Liberation Sans; stroke: #262626; stroke-width: 0.2px; text-anchor: start; fill: #262626" x="363.746494" y="68.09944" transform="rotate(-0 363.746494 68.09944)" textLength="32.801" lengthAdjust="spacingAndGlyphs">S/D=4</text>
</g>
<g id="line2d_62">
<g>
<use href="#m7faa348550" x="430.413056" y="48.986552" style="fill: #0000ff; stroke: #000000; stroke-width: 0.85"/>
</g>
</g>
<g id="text_56">
<text style="font-size: 10.503px; font-family: Liberation Sans; stroke: #262626; stroke-width: 0.2px; text-anchor: start; fill: #262626" x="448.773056" y="52.556552" transform="rotate(-0 448.773056 52.556552)" textLength="32.801" lengthAdjust="spacingAndGlyphs">S/D=6</text>
</g>
<g id="line2d_63">
<g>
<use href="#m8d33e13963" x="430.413056" y="64.52944" style="fill: #ff0000; stroke: #000000; stroke-width: 0.85"/>
</g>
</g>
<g id="text_57">
<text style="font-size: 10.503px; font-family: Liberation Sans; stroke: #262626; stroke-width: 0.2px; text-anchor: start; fill: #262626" x="448.773056" y="68.09944" transform="rotate(-0 448.773056 68.09944)" textLength="32.801" lengthAdjust="spacingAndGlyphs">S/D=8</text>
</g>
</g></g>
<g id="Poly3DCollection_7">
<path d="M 414.286303 117.043584 L 435.695818 124.655335 L 460.97373 85.781102 L 439.786867 79.289265 z
" clip-path="url(#pefdb9afac8)" style="fill: #ed7953; stroke: #ffffff; stroke-width: 1.1"/>
<path d="M 435.695818 124.655335 L 457.37797 128.243834 L 482.492752 85.466934 L 460.97373 85.781102 z
" clip-path="url(#pefdb9afac8)" style="fill: #ef7c51; stroke: #ffffff; stroke-width: 1.1"/>
<path d="M 457.37797 128.243834 L 479.334758 149.813504 L 504.186046 101.858885 L 482.492752 85.466934 z
" clip-path="url(#pefdb9afac8)" style="fill: #e97158; stroke: #ffffff; stroke-width: 1.1"/>
<path d="M 479.334758 149.813504 L 512.535305 174.137312 L 536.761279 135.160763 L 504.186046 101.858885 z
" clip-path="url(#pefdb9afac8)" style="fill: #cd4a76; stroke: #ffffff; stroke-width: 1.1"/>
<path d="M 387.881065 157.774084 L 409.487396 165.199604 L 435.695818 124.655335 L 414.286303 117.043584 z
" clip-path="url(#pefdb9afac8)" style="fill: #ce4b75; stroke: #ffffff; stroke-width: 1.1"/>
<path d="M 512.535305 174.137312 L 546.356235 190.327606 L 569.910952 156.799705 L 536.761279 135.160763 z
" clip-path="url(#pefdb9afac8)" style="fill: #ae2892; stroke: #ffffff; stroke-width: 1.1"/>
<path d="M 409.487396 165.199604 L 431.301718 165.608133 L 457.37797 128.243834 L 435.695818 124.655335 z
" clip-path="url(#pefdb9afac8)" style="fill: #d14e72; stroke: #ffffff; stroke-width: 1.1"/>
<path d="M 431.301718 165.608133 L 453.628973 181.625604 L 479.334758 149.813504 L 457.37797 128.243834 z
" clip-path="url(#pefdb9afac8)" style="fill: #c9447a; stroke: #ffffff; stroke-width: 1.1"/>
<path d="M 453.628973 181.625604 L 487.422669 208.433125 L 512.535305 174.137312 L 479.334758 149.813504 z
" clip-path="url(#pefdb9afac8)" style="fill: #aa2395; stroke: #ffffff; stroke-width: 1.1"/>
<path d="M 360.379709 197.001096 L 382.235558 205.45706 L 409.487396 165.199604 L 387.881065 157.774084 z
" clip-path="url(#pefdb9afac8)" style="fill: #a62098; stroke: #ffffff; stroke-width: 1.1"/>
<path d="M 487.422669 208.433125 L 521.818205 222.870262 L 546.356235 190.327606 L 512.535305 174.137312 z
" clip-path="url(#pefdb9afac8)" style="fill: #8d0ba5; stroke: #ffffff; stroke-width: 1.1"/>
<path d="M 382.235558 205.45706 L 404.230729 207.3083 L 431.301718 165.608133 L 409.487396 165.199604 z
" clip-path="url(#pefdb9afac8)" style="fill: #ab2494; stroke: #ffffff; stroke-width: 1.1"/>
<path d="M 404.230729 207.3083 L 426.875718 223.28538 L 453.628973 181.625604 L 431.301718 165.608133 z
" clip-path="url(#pefdb9afac8)" style="fill: #a62098; stroke: #ffffff; stroke-width: 1.1"/>
<path d="M 426.875718 223.28538 L 461.202582 250.776682 L 487.422669 208.433125 L 453.628973 181.625604 z
" clip-path="url(#pefdb9afac8)" style="fill: #8104a7; stroke: #ffffff; stroke-width: 1.1"/>
<path d="M 461.202582 250.776682 L 495.99536 267.789569 L 521.818205 222.870262 L 487.422669 208.433125 z
" clip-path="url(#pefdb9afac8)" style="fill: #6001a6; stroke: #ffffff; stroke-width: 1.1"/>
</g>
<g id="Path3DCollection_7">
<g clip-path="url(#pefdb9afac8)">
<use href="#m139da3f64d" x="439.786867" y="79.289265" style="fill: #ffff00; stroke: #000000; stroke-width: 0.85"/>
<use href="#m139da3f64d" x="460.97373" y="85.781102" style="fill: #ffff00; stroke: #000000; stroke-width: 0.85"/>
<use href="#m139da3f64d" x="482.492752" y="85.466934" style="fill: #ffff00; stroke: #000000; stroke-width: 0.85"/>
<use href="#m139da3f64d" x="414.286303" y="117.043584" style="fill: #ffff00; stroke: #000000; stroke-width: 0.85"/>
<use href="#m139da3f64d" x="504.186046" y="101.858885" style="fill: #ffff00; stroke: #000000; stroke-width: 0.85"/>
<use href="#m139da3f64d" x="536.761279" y="135.160763" style="fill: #ffff00; stroke: #000000; stroke-width: 0.85"/>
<use href="#m139da3f64d" x="435.695818" y="124.655335" style="fill: #ffff00; stroke: #000000; stroke-width: 0.85"/>
<use href="#m139da3f64d" x="569.910952" y="156.799705" style="fill: #ffff00; stroke: #000000; stroke-width: 0.85"/>
<use href="#m139da3f64d" x="457.37797" y="128.243834" style="fill: #ffff00; stroke: #000000; stroke-width: 0.85"/>
<use href="#m139da3f64d" x="479.334758" y="149.813504" style="fill: #ffff00; stroke: #000000; stroke-width: 0.85"/>
<use href="#m139da3f64d" x="387.881065" y="157.774084" style="fill: #ffff00; stroke: #000000; stroke-width: 0.85"/>
<use href="#m139da3f64d" x="512.535305" y="174.137312" style="fill: #ffff00; stroke: #000000; stroke-width: 0.85"/>
<use href="#m139da3f64d" x="409.487396" y="165.199604" style="fill: #ffff00; stroke: #000000; stroke-width: 0.85"/>
<use href="#m139da3f64d" x="546.356235" y="190.327606" style="fill: #ffff00; stroke: #000000; stroke-width: 0.85"/>
<use href="#m139da3f64d" x="431.301718" y="165.608133" style="fill: #ffff00; stroke: #000000; stroke-width: 0.85"/>
<use href="#m139da3f64d" x="360.379709" y="197.001096" style="fill: #ffff00; stroke: #000000; stroke-width: 0.85"/>
<use href="#m139da3f64d" x="453.628973" y="181.625604" style="fill: #ffff00; stroke: #000000; stroke-width: 0.85"/>
<use href="#m139da3f64d" x="487.422669" y="208.433125" style="fill: #ffff00; stroke: #000000; stroke-width: 0.85"/>
<use href="#m139da3f64d" x="382.235558" y="205.45706" style="fill: #ffff00; stroke: #000000; stroke-width: 0.85"/>
<use href="#m139da3f64d" x="521.818205" y="222.870262" style="fill: #ffff00; stroke: #000000; stroke-width: 0.85"/>
<use href="#m139da3f64d" x="404.230729" y="207.3083" style="fill: #ffff00; stroke: #000000; stroke-width: 0.85"/>
<use href="#m139da3f64d" x="426.875718" y="223.28538" style="fill: #ffff00; stroke: #000000; stroke-width: 0.85"/>
<use href="#m139da3f64d" x="461.202582" y="250.776682" style="fill: #ffff00; stroke: #000000; stroke-width: 0.85"/>
<use href="#m139da3f64d" x="495.99536" y="267.789569" style="fill: #ffff00; stroke: #000000; stroke-width: 0.85"/>
</g>
</g>
<g id="Poly3DCollection_8">
<path d="M 414.212194 113.317628 L 435.641952 120.082834 L 460.965976 82.099601 L 439.758339 76.449414 z
" clip-path="url(#pefdb9afac8)" style="fill: #f1834c; stroke: #ffffff; stroke-width: 1.1"/>
<path d="M 435.641952 120.082834 L 457.360481 123.266889 L 482.517214 81.377779 L 460.965976 82.099601 z
" clip-path="url(#pefdb9afac8)" style="fill: #f48849; stroke: #ffffff; stroke-width: 1.1"/>
<path d="M 457.360481 123.266889 L 479.354729 145.749512 L 504.231501 98.66312 L 482.517214 81.377779 z
" clip-path="url(#pefdb9afac8)" style="fill: #ef7c51; stroke: #ffffff; stroke-width: 1.1"/>
<path d="M 479.354729 145.749512 L 512.689274 165.520998 L 536.9685 127.452034 L 504.231501 98.66312 z
" clip-path="url(#pefdb9afac8)" style="fill: #d8576b; stroke: #ffffff; stroke-width: 1.1"/>
<path d="M 387.836246 156.299989 L 409.43622 162.886068 L 435.641952 120.082834 L 414.212194 113.317628 z
" clip-path="url(#pefdb9afac8)" style="fill: #d45270; stroke: #ffffff; stroke-width: 1.1"/>
<path d="M 512.689274 165.520998 L 546.533367 184.653214 L 570.100777 152.043229 L 536.9685 127.452034 z
" clip-path="url(#pefdb9afac8)" style="fill: #bd3786; stroke: #ffffff; stroke-width: 1.1"/>
<path d="M 409.43622 162.886068 L 431.26467 162.898 L 457.360481 123.266889 L 435.641952 120.082834 z
" clip-path="url(#pefdb9afac8)" style="fill: #d7566c; stroke: #ffffff; stroke-width: 1.1"/>
<path d="M 431.26467 162.898 L 453.619797 179.808243 L 479.354729 145.749512 L 457.360481 123.266889 z
" clip-path="url(#pefdb9afac8)" style="fill: #cf4c74; stroke: #ffffff; stroke-width: 1.1"/>
<path d="M 453.619797 179.808243 L 487.475289 202.027601 L 512.689274 165.520998 L 479.354729 145.749512 z
" clip-path="url(#pefdb9afac8)" style="fill: #b6308b; stroke: #ffffff; stroke-width: 1.1"/>
<path d="M 360.24858 193.853597 L 382.102893 201.460816 L 409.43622 162.886068 L 387.836246 156.299989 z
" clip-path="url(#pefdb9afac8)" style="fill: #ad2793; stroke: #ffffff; stroke-width: 1.1"/>
<path d="M 487.475289 202.027601 L 521.893628 219.425241 L 546.533367 184.653214 L 512.689274 165.520998 z
" clip-path="url(#pefdb9afac8)" style="fill: #9d189d; stroke: #ffffff; stroke-width: 1.1"/>
<path d="M 382.102893 201.460816 L 404.122488 202.900712 L 431.26467 162.898 L 409.43622 162.886068 z
" clip-path="url(#pefdb9afac8)" style="fill: #b32c8e; stroke: #ffffff; stroke-width: 1.1"/>
<path d="M 404.122488 202.900712 L 426.820516 219.777621 L 453.619797 179.808243 L 431.26467 162.898 z
" clip-path="url(#pefdb9afac8)" style="fill: #ae2892; stroke: #ffffff; stroke-width: 1.1"/>
<path d="M 426.820516 219.777621 L 461.185129 242.672891 L 487.475289 202.027601 L 453.619797 179.808243 z
" clip-path="url(#pefdb9afac8)" style="fill: #910ea3; stroke: #ffffff; stroke-width: 1.1"/>
<path d="M 461.185129 242.672891 L 496.056251 262.660093 L 521.893628 219.425241 L 487.475289 202.027601 z
" clip-path="url(#pefdb9afac8)" style="fill: #7201a8; stroke: #ffffff; stroke-width: 1.1"/>
</g>
<g id="Path3DCollection_8">
<g clip-path="url(#pefdb9afac8)">
<use href="#mfc11e357d9" x="439.758339" y="76.449414" style="fill: #008000; stroke: #000000; stroke-width: 0.85"/>
<use href="#mfc11e357d9" x="460.965976" y="82.099601" style="fill: #008000; stroke: #000000; stroke-width: 0.85"/>
<use href="#mfc11e357d9" x="482.517214" y="81.377779" style="fill: #008000; stroke: #000000; stroke-width: 0.85"/>
<use href="#mfc11e357d9" x="414.212194" y="113.317628" style="fill: #008000; stroke: #000000; stroke-width: 0.85"/>
<use href="#mfc11e357d9" x="504.231501" y="98.66312" style="fill: #008000; stroke: #000000; stroke-width: 0.85"/>
<use href="#mfc11e357d9" x="536.9685" y="127.452034" style="fill: #008000; stroke: #000000; stroke-width: 0.85"/>
<use href="#mfc11e357d9" x="435.641952" y="120.082834" style="fill: #008000; stroke: #000000; stroke-width: 0.85"/>
<use href="#mfc11e357d9" x="570.100777" y="152.043229" style="fill: #008000; stroke: #000000; stroke-width: 0.85"/>
<use href="#mfc11e357d9" x="457.360481" y="123.266889" style="fill: #008000; stroke: #000000; stroke-width: 0.85"/>
<use href="#mfc11e357d9" x="479.354729" y="145.749512" style="fill: #008000; stroke: #000000; stroke-width: 0.85"/>
<use href="#mfc11e357d9" x="387.836246" y="156.299989" style="fill: #008000; stroke: #000000; stroke-width: 0.85"/>
<use href="#mfc11e357d9" x="512.689274" y="165.520998" style="fill: #008000; stroke: #000000; stroke-width: 0.85"/>
<use href="#mfc11e357d9" x="409.43622" y="162.886068" style="fill: #008000; stroke: #000000; stroke-width: 0.85"/>
<use href="#mfc11e357d9" x="546.533367" y="184.653214" style="fill: #008000; stroke: #000000; stroke-width: 0.85"/>
<use href="#mfc11e357d9" x="431.26467" y="162.898" style="fill: #008000; stroke: #000000; stroke-width: 0.85"/>
<use href="#mfc11e357d9" x="360.24858" y="193.853597" style="fill: #008000; stroke: #000000; stroke-width: 0.85"/>
<use href="#mfc11e357d9" x="453.619797" y="179.808243" style="fill: #008000; stroke: #000000; stroke-width: 0.85"/>
<use href="#mfc11e357d9" x="382.102893" y="201.460816" style="fill: #008000; stroke: #000000; stroke-width: 0.85"/>
<use href="#mfc11e357d9" x="487.475289" y="202.027601" style="fill: #008000; stroke: #000000; stroke-width: 0.85"/>
<use href="#mfc11e357d9" x="521.893628" y="219.425241" style="fill: #008000; stroke: #000000; stroke-width: 0.85"/>
<use href="#mfc11e357d9" x="404.122488" y="202.900712" style="fill: #008000; stroke: #000000; stroke-width: 0.85"/>
<use href="#mfc11e357d9" x="426.820516" y="219.777621" style="fill: #008000; stroke: #000000; stroke-width: 0.85"/>
<use href="#mfc11e357d9" x="461.185129" y="242.672891" style="fill: #008000; stroke: #000000; stroke-width: 0.85"/>
<use href="#mfc11e357d9" x="496.056251" y="262.660093" style="fill: #008000; stroke: #000000; stroke-width: 0.85"/>
</g>
</g>
</g>
<g id="axes_4">
<g id="patch_14">
<path d="M 326.337662 35.875804 L 599.376623 35.875804 L 599.376623 21.659285 L 326.337662 21.659285 z
" style="fill: #ffffff"/>
</g>
<rect transform="scale(1 -1) translate(0 -14.961039)" x="326.337662" y="-20.571429" width="273.038961" height="14.961039" fill="url(#plasmaG)"/>
<g id="matplotlib.axis_3">
<g id="xtick_50">
<g id="line2d_64">
<g>
<use href="#m3040c0677d" x="350.218322" y="21.659285" style="fill: #1a1a1a; stroke: #1a1a1a"/>
</g>
</g>
<g id="text_58">
<text style="font-size: 9.270px; font-family: Liberation Sans; stroke: #262626; stroke-width: 0.2px; text-anchor: middle; fill: #262626" x="350.218322" y="9.486942" transform="rotate(-0 350.218322 9.486942)" textLength="17.184" lengthAdjust="spacingAndGlyphs">150</text>
</g>
</g>
<g id="xtick_51">
<g id="line2d_65">
<g>
<use href="#m3040c0677d" x="375.841348" y="21.659285" style="fill: #1a1a1a; stroke: #1a1a1a"/>
</g>
</g>
<g id="text_59">
<text style="font-size: 9.270px; font-family: Liberation Sans; stroke: #262626; stroke-width: 0.2px; text-anchor: middle; fill: #262626" x="375.841348" y="9.486942" transform="rotate(-0 375.841348 9.486942)" textLength="17.184" lengthAdjust="spacingAndGlyphs">175</text>
</g>
</g>
<g id="xtick_52">
<g id="line2d_66">
<g>
<use href="#m3040c0677d" x="401.464373" y="21.659285" style="fill: #1a1a1a; stroke: #1a1a1a"/>
</g>
</g>
<g id="text_60">
<text style="font-size: 9.270px; font-family: Liberation Sans; stroke: #262626; stroke-width: 0.2px; text-anchor: middle; fill: #262626" x="401.464373" y="9.486942" transform="rotate(-0 401.464373 9.486942)" textLength="17.184" lengthAdjust="spacingAndGlyphs">200</text>
</g>
</g>
<g id="xtick_53">
<g id="line2d_67">
<g>
<use href="#m3040c0677d" x="427.087399" y="21.659285" style="fill: #1a1a1a; stroke: #1a1a1a"/>
</g>
</g>
<g id="text_61">
<text style="font-size: 9.270px; font-family: Liberation Sans; stroke: #262626; stroke-width: 0.2px; text-anchor: middle; fill: #262626" x="427.087399" y="9.486942" transform="rotate(-0 427.087399 9.486942)" textLength="17.184" lengthAdjust="spacingAndGlyphs">225</text>
</g>
</g>
<g id="xtick_54">
<g id="line2d_68">
<g>
<use href="#m3040c0677d" x="452.710425" y="21.659285" style="fill: #1a1a1a; stroke: #1a1a1a"/>
</g>
</g>
<g id="text_62">
<text style="font-size: 9.270px; font-family: Liberation Sans; stroke: #262626; stroke-width: 0.2px; text-anchor: middle; fill: #262626" x="452.710425" y="9.486942" transform="rotate(-0 452.710425 9.486942)" textLength="17.184" lengthAdjust="spacingAndGlyphs">250</text>
</g>
</g>
<g id="xtick_55">
<g id="line2d_69">
<g>
<use href="#m3040c0677d" x="478.33345" y="21.659285" style="fill: #1a1a1a; stroke: #1a1a1a"/>
</g>
</g>
<g id="text_63">
<text style="font-size: 9.270px; font-family: Liberation Sans; stroke: #262626; stroke-width: 0.2px; text-anchor: middle; fill: #262626" x="478.33345" y="9.486942" transform="rotate(-0 478.33345 9.486942)" textLength="17.184" lengthAdjust="spacingAndGlyphs">275</text>
</g>
</g>
<g id="xtick_56">
<g id="line2d_70">
<g>
<use href="#m3040c0677d" x="503.956476" y="21.659285" style="fill: #1a1a1a; stroke: #1a1a1a"/>
</g>
</g>
<g id="text_64">
<text style="font-size: 9.270px; font-family: Liberation Sans; stroke: #262626; stroke-width: 0.2px; text-anchor: middle; fill: #262626" x="503.956476" y="9.486942" transform="rotate(-0 503.956476 9.486942)" textLength="17.184" lengthAdjust="spacingAndGlyphs">300</text>
</g>
</g>
<g id="xtick_57">
<g id="line2d_71">
<g>
<use href="#m3040c0677d" x="529.579502" y="21.659285" style="fill: #1a1a1a; stroke: #1a1a1a"/>
</g>
</g>
<g id="text_65">
<text style="font-size: 9.270px; font-family: Liberation Sans; stroke: #262626; stroke-width: 0.2px; text-anchor: middle; fill: #262626" x="529.579502" y="9.486942" transform="rotate(-0 529.579502 9.486942)" textLength="17.184" lengthAdjust="spacingAndGlyphs">325</text>
</g>
</g>
<g id="xtick_58">
<g id="line2d_72">
<g>
<use href="#m3040c0677d" x="555.202527" y="21.659285" style="fill: #1a1a1a; stroke: #1a1a1a"/>
</g>
</g>
<g id="text_66">
<text style="font-size: 9.270px; font-family: Liberation Sans; stroke: #262626; stroke-width: 0.2px; text-anchor: middle; fill: #262626" x="555.202527" y="9.486942" transform="rotate(-0 555.202527 9.486942)" textLength="17.184" lengthAdjust="spacingAndGlyphs">350</text>
</g>
</g>
<g id="xtick_59">
<g id="line2d_73">
<g>
<use href="#m3040c0677d" x="580.825553" y="21.659285" style="fill: #1a1a1a; stroke: #1a1a1a"/>
</g>
</g>
<g id="text_67">
<text style="font-size: 9.270px; font-family: Liberation Sans; stroke: #262626; stroke-width: 0.2px; text-anchor: middle; fill: #262626" x="580.825553" y="9.486942" transform="rotate(-0 580.825553 9.486942)" textLength="17.184" lengthAdjust="spacingAndGlyphs">375</text>
</g>
</g>
</g>
<g id="matplotlib.axis_4"/>
<g id="LineCollection_2"/>
<g id="patch_15">
<path d="M 326.337662 35.875804 L 326.337662 28.767545 L 326.337662 21.659285 L 599.376623 21.659285 L 599.376623 28.767545 L 599.376623 35.875804 L 326.337662 35.875804 z
" style="fill: none; stroke: #000000; stroke-width: 1.2; stroke-linejoin: miter; stroke-linecap: square"/>
</g>
</g>
</g>
<defs>
<clipPath id="pda43976c72">
<rect x="1.162195" y="34.714944" width="275.251834" height="275.251834"/>
</clipPath>
<clipPath id="pefdb9afac8">
<rect x="325.231127" y="35.119295" width="275.251834" height="275.251834"/>
</clipPath>
</defs>
</svg>


<svg class="ov" viewBox="0 0 685 410">
<g font-family="Liberation Sans" font-weight="bold" fill="#262626" stroke="#262626" stroke-width="0.2" font-size="11.6">
<text transform="translate(320.9 179.0) scale(1 1.1181)" textLength="15.5" lengthAdjust="spacingAndGlyphs">Nu</text>
<text transform="translate(260.9 339.8) scale(1 1.1181)" textLength="14.4" lengthAdjust="spacingAndGlyphs">Re</text>
<text transform="translate(668.0 179.0) scale(1 1.1181)" textLength="15.5" lengthAdjust="spacingAndGlyphs">Nu</text>
<text transform="translate(608.0 339.8) scale(1 1.1181)" textLength="14.4" lengthAdjust="spacingAndGlyphs">Re</text>
</g>
<g font-family="Liberation Sans" font-weight="bold" font-style="italic" fill="#262626" stroke="#262626" stroke-width="0.55" font-size="11.01">
<text transform="translate(77.0 371.5) scale(1 1.1181)" font-size="12.9" textLength="9.0" lengthAdjust="spacingAndGlyphs">θ</text>
<text transform="translate(424.1 371.5) scale(1 1.1181)" font-size="12.9" textLength="9.0" lengthAdjust="spacingAndGlyphs">θ</text>
</g>
<g fill="none" stroke="#262626" stroke-width="1">
<ellipse cx="89.7" cy="365.4" rx="1.75" ry="1.75"/>
<ellipse cx="436.8" cy="365.4" rx="1.75" ry="1.75"/>
</g>
<g font-family="Liberation Serif" font-weight="bold" fill="#000" font-size="14.4">
<text text-anchor="middle" transform="translate(182.7 405.9) scale(1 1.1181)">(a)</text>
<text text-anchor="middle" transform="translate(514.5 402.2) scale(1 1.1181)">(b)</text>
</g>
</svg>
</div></body></html>
